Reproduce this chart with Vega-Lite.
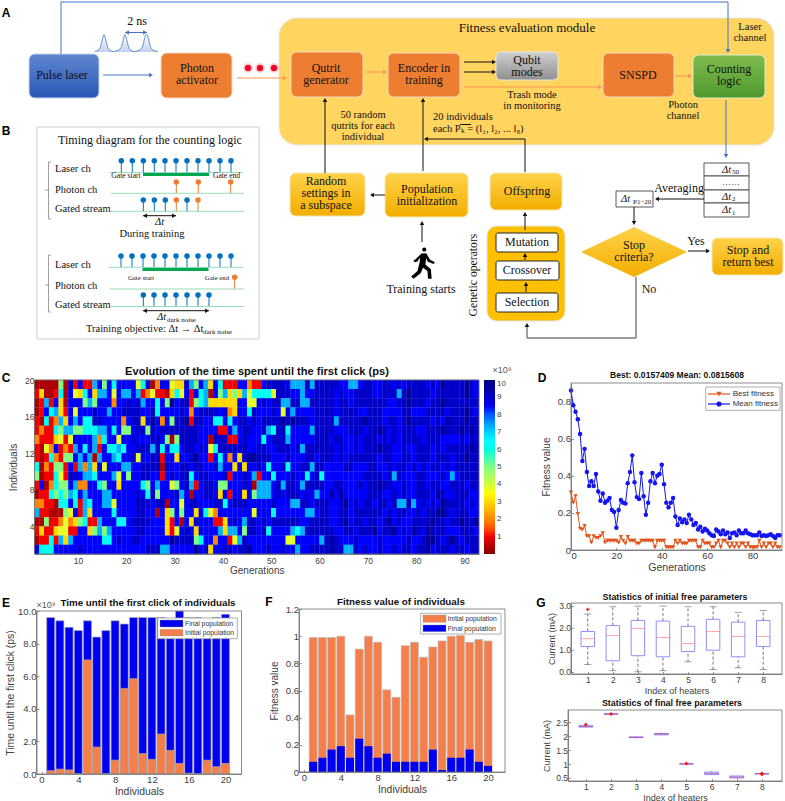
{"$schema":"https://vega.github.io/schema/vega-lite/v6.json","width":785,"height":801,"padding":0,"autosize":{"type":"none"},"background":"white",
"config":{"view":{"stroke":null},"text":{"lineBreak":"\n"},"axis":{"grid":false,"domainColor":"#6e6e6e","tickColor":"#6e6e6e","labelColor":"#404040","titleColor":"#404040","labelFont":"Liberation Sans","titleFont":"Liberation Sans","titleFontWeight":"normal","tickSize":-2.5,"labelPadding":3,"domainWidth":0.8,"tickWidth":0.7}},
"resolve":{"scale":{"x":"independent","y":"independent","fill":"independent","color":"independent","size":"independent","shape":"independent"},"axis":{"x":"independent","y":"independent"},"legend":{"fill":"independent"}},
"datasets":{
"heat":[
{"g":1,"i":19,"v":0.4},{"g":2,"i":19,"v":0.4},{"g":3,"i":19,"v":0.4},{"g":4,"i":19,"v":0.4},{"g":5,"i":19,"v":0.4},{"g":6,"i":19,"v":5},{"g":7,"i":19,"v":0.4},{"g":8,"i":19,"v":9},{"g":9,"i":19,"v":1},{"g":10,"i":19,"v":8.3},{"g":11,"i":19,"v":1},{"g":12,"i":19,"v":1},{"g":13,"i":19,"v":7.3},{"g":14,"i":19,"v":8.3},{"g":15,"i":19,"v":5},{"g":16,"i":19,"v":8.3},{"g":17,"i":19,"v":6.3},{"g":18,"i":19,"v":8.3},{"g":19,"i":19,"v":8.3},{"g":20,"i":19,"v":8.3},{"g":21,"i":19,"v":8.3},{"g":22,"i":19,"v":3.8},{"g":23,"i":19,"v":6.3},{"g":24,"i":19,"v":9},{"g":25,"i":19,"v":0.4},{"g":26,"i":19,"v":2},{"g":27,"i":19,"v":8.3},{"g":28,"i":19,"v":8.3},{"g":29,"i":19,"v":3.8},{"g":30,"i":19,"v":3},{"g":31,"i":19,"v":3},{"g":32,"i":19,"v":9},{"g":33,"i":19,"v":7.3},{"g":34,"i":19,"v":5},{"g":35,"i":19,"v":8.3},{"g":36,"i":19,"v":7.3},{"g":37,"i":19,"v":3},{"g":38,"i":19,"v":8.3},{"g":39,"i":19,"v":6.3},{"g":40,"i":19,"v":1},{"g":41,"i":19,"v":1},{"g":42,"i":19,"v":1},{"g":43,"i":19,"v":8.3},{"g":44,"i":19,"v":8.3},{"g":45,"i":19,"v":2},{"g":46,"i":19,"v":1},{"g":47,"i":19,"v":1},{"g":48,"i":19,"v":8.3},{"g":49,"i":19,"v":9},{"g":50,"i":19,"v":9},{"g":51,"i":19,"v":9},{"g":52,"i":19,"v":9},{"g":53,"i":19,"v":8.3},{"g":54,"i":19,"v":7.3},{"g":55,"i":19,"v":7.3},{"g":56,"i":19,"v":7.3},{"g":57,"i":19,"v":9},{"g":58,"i":19,"v":7.3},{"g":59,"i":19,"v":9},{"g":60,"i":19,"v":9},{"g":61,"i":19,"v":9},{"g":62,"i":19,"v":9},{"g":63,"i":19,"v":9},{"g":64,"i":19,"v":8.3},{"g":65,"i":19,"v":8.3},{"g":66,"i":19,"v":7.3},{"g":67,"i":19,"v":7.3},{"g":68,"i":19,"v":8.3},{"g":69,"i":19,"v":9},{"g":70,"i":19,"v":9},{"g":71,"i":19,"v":8.3},{"g":72,"i":19,"v":8.3},{"g":73,"i":19,"v":9},{"g":74,"i":19,"v":9},{"g":75,"i":19,"v":8.3},{"g":76,"i":19,"v":9},{"g":77,"i":19,"v":8.3},{"g":78,"i":19,"v":9},{"g":79,"i":19,"v":9},{"g":80,"i":19,"v":9},{"g":81,"i":19,"v":9},{"g":82,"i":19,"v":8.3},{"g":83,"i":19,"v":9},{"g":84,"i":19,"v":8.3},{"g":85,"i":19,"v":9.6},{"g":86,"i":19,"v":9},{"g":87,"i":19,"v":9},{"g":88,"i":19,"v":9},{"g":89,"i":19,"v":9},{"g":90,"i":19,"v":9.6},{"g":91,"i":19,"v":9},{"g":92,"i":19,"v":8.3},
{"g":1,"i":18,"v":1},{"g":2,"i":18,"v":3},{"g":3,"i":18,"v":0.4},{"g":4,"i":18,"v":0.4},{"g":5,"i":18,"v":1},{"g":6,"i":18,"v":6.3},{"g":7,"i":18,"v":0.4},{"g":8,"i":18,"v":8.3},{"g":9,"i":18,"v":3.8},{"g":10,"i":18,"v":3},{"g":11,"i":18,"v":6.3},{"g":12,"i":18,"v":8.3},{"g":13,"i":18,"v":3},{"g":14,"i":18,"v":7.3},{"g":15,"i":18,"v":7.3},{"g":16,"i":18,"v":8.3},{"g":17,"i":18,"v":3.8},{"g":18,"i":18,"v":8.3},{"g":19,"i":18,"v":7.3},{"g":20,"i":18,"v":7.3},{"g":21,"i":18,"v":8.3},{"g":22,"i":18,"v":7.3},{"g":23,"i":18,"v":1},{"g":24,"i":18,"v":2},{"g":25,"i":18,"v":3.8},{"g":26,"i":18,"v":1},{"g":27,"i":18,"v":1},{"g":28,"i":18,"v":0.4},{"g":29,"i":18,"v":3},{"g":30,"i":18,"v":6.3},{"g":31,"i":18,"v":3.8},{"g":32,"i":18,"v":8.3},{"g":33,"i":18,"v":1},{"g":34,"i":18,"v":8.3},{"g":35,"i":18,"v":6.3},{"g":36,"i":18,"v":7.3},{"g":37,"i":18,"v":0.4},{"g":38,"i":18,"v":8.3},{"g":39,"i":18,"v":5},{"g":40,"i":18,"v":7.3},{"g":41,"i":18,"v":3},{"g":42,"i":18,"v":5},{"g":43,"i":18,"v":3},{"g":44,"i":18,"v":7.3},{"g":45,"i":18,"v":3.8},{"g":46,"i":18,"v":6.3},{"g":47,"i":18,"v":6.3},{"g":48,"i":18,"v":6.3},{"g":49,"i":18,"v":6.3},{"g":50,"i":18,"v":3.8},{"g":51,"i":18,"v":9},{"g":52,"i":18,"v":9},{"g":53,"i":18,"v":9},{"g":54,"i":18,"v":8.3},{"g":55,"i":18,"v":8.3},{"g":56,"i":18,"v":7.3},{"g":57,"i":18,"v":8.3},{"g":58,"i":18,"v":8.3},{"g":59,"i":18,"v":9},{"g":60,"i":18,"v":9},{"g":61,"i":18,"v":9},{"g":62,"i":18,"v":9},{"g":63,"i":18,"v":8.3},{"g":64,"i":18,"v":9},{"g":65,"i":18,"v":8.3},{"g":66,"i":18,"v":8.3},{"g":67,"i":18,"v":9},{"g":68,"i":18,"v":9},{"g":69,"i":18,"v":9},{"g":70,"i":18,"v":9},{"g":71,"i":18,"v":8.3},{"g":72,"i":18,"v":8.3},{"g":73,"i":18,"v":9},{"g":74,"i":18,"v":9},{"g":75,"i":18,"v":9},{"g":76,"i":18,"v":7.3},{"g":77,"i":18,"v":9},{"g":78,"i":18,"v":9.6},{"g":79,"i":18,"v":9},{"g":80,"i":18,"v":9},{"g":81,"i":18,"v":9},{"g":82,"i":18,"v":9},{"g":83,"i":18,"v":8.3},{"g":84,"i":18,"v":9},{"g":85,"i":18,"v":9},{"g":86,"i":18,"v":9},{"g":87,"i":18,"v":9},{"g":88,"i":18,"v":9},{"g":89,"i":18,"v":9},{"g":90,"i":18,"v":9.6},{"g":91,"i":18,"v":9},{"g":92,"i":18,"v":8.3},
{"g":1,"i":17,"v":0.4},{"g":2,"i":17,"v":1},{"g":3,"i":17,"v":7.3},{"g":4,"i":17,"v":1},{"g":5,"i":17,"v":8.3},{"g":6,"i":17,"v":3},{"g":7,"i":17,"v":0.4},{"g":8,"i":17,"v":8.3},{"g":9,"i":17,"v":8.3},{"g":10,"i":17,"v":8.3},{"g":11,"i":17,"v":5},{"g":12,"i":17,"v":7.3},{"g":13,"i":17,"v":5},{"g":14,"i":17,"v":8.3},{"g":15,"i":17,"v":8.3},{"g":16,"i":17,"v":8.3},{"g":17,"i":17,"v":2},{"g":18,"i":17,"v":8.3},{"g":19,"i":17,"v":8.3},{"g":20,"i":17,"v":9},{"g":21,"i":17,"v":8.3},{"g":22,"i":17,"v":9},{"g":23,"i":17,"v":7.3},{"g":24,"i":17,"v":8.3},{"g":25,"i":17,"v":8.3},{"g":26,"i":17,"v":6.3},{"g":27,"i":17,"v":8.3},{"g":28,"i":17,"v":5},{"g":29,"i":17,"v":9.6},{"g":30,"i":17,"v":8.3},{"g":31,"i":17,"v":9},{"g":32,"i":17,"v":9},{"g":33,"i":17,"v":1},{"g":34,"i":17,"v":5},{"g":35,"i":17,"v":6.3},{"g":36,"i":17,"v":7.3},{"g":37,"i":17,"v":3},{"g":38,"i":17,"v":3},{"g":39,"i":17,"v":3},{"g":40,"i":17,"v":3},{"g":41,"i":17,"v":3},{"g":42,"i":17,"v":3},{"g":43,"i":17,"v":8.3},{"g":44,"i":17,"v":8.3},{"g":45,"i":17,"v":3.8},{"g":46,"i":17,"v":3.8},{"g":47,"i":17,"v":8.3},{"g":48,"i":17,"v":9},{"g":49,"i":17,"v":8.3},{"g":50,"i":17,"v":9},{"g":51,"i":17,"v":9},{"g":52,"i":17,"v":7.3},{"g":53,"i":17,"v":7.3},{"g":54,"i":17,"v":9},{"g":55,"i":17,"v":9},{"g":56,"i":17,"v":7.3},{"g":57,"i":17,"v":7.3},{"g":58,"i":17,"v":9},{"g":59,"i":17,"v":9},{"g":60,"i":17,"v":9},{"g":61,"i":17,"v":9},{"g":62,"i":17,"v":9},{"g":63,"i":17,"v":8.3},{"g":64,"i":17,"v":9},{"g":65,"i":17,"v":9},{"g":66,"i":17,"v":8.3},{"g":67,"i":17,"v":9},{"g":68,"i":17,"v":9},{"g":69,"i":17,"v":9},{"g":70,"i":17,"v":9},{"g":71,"i":17,"v":9},{"g":72,"i":17,"v":9},{"g":73,"i":17,"v":9},{"g":74,"i":17,"v":8.3},{"g":75,"i":17,"v":8.3},{"g":76,"i":17,"v":9},{"g":77,"i":17,"v":9},{"g":78,"i":17,"v":9.6},{"g":79,"i":17,"v":9},{"g":80,"i":17,"v":9},{"g":81,"i":17,"v":9},{"g":82,"i":17,"v":8.3},{"g":83,"i":17,"v":9},{"g":84,"i":17,"v":9},{"g":85,"i":17,"v":9.6},{"g":86,"i":17,"v":9},{"g":87,"i":17,"v":9},{"g":88,"i":17,"v":9},{"g":89,"i":17,"v":9},{"g":90,"i":17,"v":9},{"g":91,"i":17,"v":9},{"g":92,"i":17,"v":9},
{"g":1,"i":16,"v":0.4},{"g":2,"i":16,"v":1},{"g":3,"i":16,"v":8.3},{"g":4,"i":16,"v":6.3},{"g":5,"i":16,"v":7.3},{"g":6,"i":16,"v":3},{"g":7,"i":16,"v":1},{"g":8,"i":16,"v":8.3},{"g":9,"i":16,"v":3.8},{"g":10,"i":16,"v":8.3},{"g":11,"i":16,"v":8.3},{"g":12,"i":16,"v":8.3},{"g":13,"i":16,"v":9},{"g":14,"i":16,"v":8.3},{"g":15,"i":16,"v":8.3},{"g":16,"i":16,"v":7.3},{"g":17,"i":16,"v":8.3},{"g":18,"i":16,"v":8.3},{"g":19,"i":16,"v":9},{"g":20,"i":16,"v":9},{"g":21,"i":16,"v":9},{"g":22,"i":16,"v":9},{"g":23,"i":16,"v":8.3},{"g":24,"i":16,"v":8.3},{"g":25,"i":16,"v":9},{"g":26,"i":16,"v":6.3},{"g":27,"i":16,"v":8.3},{"g":28,"i":16,"v":8.3},{"g":29,"i":16,"v":8.3},{"g":30,"i":16,"v":8.3},{"g":31,"i":16,"v":9},{"g":32,"i":16,"v":8.3},{"g":33,"i":16,"v":2},{"g":34,"i":16,"v":8.3},{"g":35,"i":16,"v":9},{"g":36,"i":16,"v":9},{"g":37,"i":16,"v":9},{"g":38,"i":16,"v":9},{"g":39,"i":16,"v":8.3},{"g":40,"i":16,"v":9},{"g":41,"i":16,"v":2},{"g":42,"i":16,"v":3},{"g":43,"i":16,"v":8.3},{"g":44,"i":16,"v":8.3},{"g":45,"i":16,"v":6.3},{"g":46,"i":16,"v":9},{"g":47,"i":16,"v":8.3},{"g":48,"i":16,"v":8.3},{"g":49,"i":16,"v":8.3},{"g":50,"i":16,"v":9},{"g":51,"i":16,"v":8.3},{"g":52,"i":16,"v":3.8},{"g":53,"i":16,"v":8.3},{"g":54,"i":16,"v":7.3},{"g":55,"i":16,"v":8.3},{"g":56,"i":16,"v":8.3},{"g":57,"i":16,"v":8.3},{"g":58,"i":16,"v":8.3},{"g":59,"i":16,"v":9},{"g":60,"i":16,"v":9},{"g":61,"i":16,"v":9},{"g":62,"i":16,"v":9},{"g":63,"i":16,"v":8.3},{"g":64,"i":16,"v":9},{"g":65,"i":16,"v":9},{"g":66,"i":16,"v":9},{"g":67,"i":16,"v":9},{"g":68,"i":16,"v":8.3},{"g":69,"i":16,"v":8.3},{"g":70,"i":16,"v":9},{"g":71,"i":16,"v":9},{"g":72,"i":16,"v":9},{"g":73,"i":16,"v":8.3},{"g":74,"i":16,"v":8.3},{"g":75,"i":16,"v":8.3},{"g":76,"i":16,"v":8.3},{"g":77,"i":16,"v":9},{"g":78,"i":16,"v":9},{"g":79,"i":16,"v":8.3},{"g":80,"i":16,"v":8.3},{"g":81,"i":16,"v":8.3},{"g":82,"i":16,"v":9},{"g":83,"i":16,"v":9},{"g":84,"i":16,"v":9},{"g":85,"i":16,"v":9},{"g":86,"i":16,"v":8.3},{"g":87,"i":16,"v":9},{"g":88,"i":16,"v":9},{"g":89,"i":16,"v":9},{"g":90,"i":16,"v":9.6},{"g":91,"i":16,"v":9},{"g":92,"i":16,"v":8.3},
{"g":1,"i":15,"v":1},{"g":2,"i":15,"v":0.4},{"g":3,"i":15,"v":6.3},{"g":4,"i":15,"v":1},{"g":5,"i":15,"v":2},{"g":6,"i":15,"v":7.3},{"g":7,"i":15,"v":3},{"g":8,"i":15,"v":8.3},{"g":9,"i":15,"v":7.3},{"g":10,"i":15,"v":8.3},{"g":11,"i":15,"v":6.3},{"g":12,"i":15,"v":6.3},{"g":13,"i":15,"v":9},{"g":14,"i":15,"v":9},{"g":15,"i":15,"v":8.3},{"g":16,"i":15,"v":8.3},{"g":17,"i":15,"v":8.3},{"g":18,"i":15,"v":8.3},{"g":19,"i":15,"v":2},{"g":20,"i":15,"v":8.3},{"g":21,"i":15,"v":9},{"g":22,"i":15,"v":9},{"g":23,"i":15,"v":3},{"g":24,"i":15,"v":8.3},{"g":25,"i":15,"v":9.6},{"g":26,"i":15,"v":8.3},{"g":27,"i":15,"v":2},{"g":28,"i":15,"v":8.3},{"g":29,"i":15,"v":5},{"g":30,"i":15,"v":9},{"g":31,"i":15,"v":9},{"g":32,"i":15,"v":9.6},{"g":33,"i":15,"v":1},{"g":34,"i":15,"v":9},{"g":35,"i":15,"v":9},{"g":36,"i":15,"v":8.3},{"g":37,"i":15,"v":8.3},{"g":38,"i":15,"v":6.3},{"g":39,"i":15,"v":6.3},{"g":40,"i":15,"v":8.3},{"g":41,"i":15,"v":6.3},{"g":42,"i":15,"v":8.3},{"g":43,"i":15,"v":9},{"g":44,"i":15,"v":9},{"g":45,"i":15,"v":8.3},{"g":46,"i":15,"v":9},{"g":47,"i":15,"v":8.3},{"g":48,"i":15,"v":9},{"g":49,"i":15,"v":9},{"g":50,"i":15,"v":9},{"g":51,"i":15,"v":9},{"g":52,"i":15,"v":9.6},{"g":53,"i":15,"v":9},{"g":54,"i":15,"v":9.6},{"g":55,"i":15,"v":9},{"g":56,"i":15,"v":9},{"g":57,"i":15,"v":9},{"g":58,"i":15,"v":8.3},{"g":59,"i":15,"v":9},{"g":60,"i":15,"v":9},{"g":61,"i":15,"v":9},{"g":62,"i":15,"v":9},{"g":63,"i":15,"v":7.3},{"g":64,"i":15,"v":9},{"g":65,"i":15,"v":9},{"g":66,"i":15,"v":9},{"g":67,"i":15,"v":9},{"g":68,"i":15,"v":9},{"g":69,"i":15,"v":9.6},{"g":70,"i":15,"v":9},{"g":71,"i":15,"v":9},{"g":72,"i":15,"v":9},{"g":73,"i":15,"v":8.3},{"g":74,"i":15,"v":9},{"g":75,"i":15,"v":9},{"g":76,"i":15,"v":8.3},{"g":77,"i":15,"v":9},{"g":78,"i":15,"v":9.6},{"g":79,"i":15,"v":9},{"g":80,"i":15,"v":9},{"g":81,"i":15,"v":9},{"g":82,"i":15,"v":9},{"g":83,"i":15,"v":8.3},{"g":84,"i":15,"v":9},{"g":85,"i":15,"v":8.3},{"g":86,"i":15,"v":9.6},{"g":87,"i":15,"v":9},{"g":88,"i":15,"v":9},{"g":89,"i":15,"v":9},{"g":90,"i":15,"v":9.6},{"g":91,"i":15,"v":9},{"g":92,"i":15,"v":9},
{"g":1,"i":14,"v":1},{"g":2,"i":14,"v":2},{"g":3,"i":14,"v":1},{"g":4,"i":14,"v":1},{"g":5,"i":14,"v":6.3},{"g":6,"i":14,"v":5},{"g":7,"i":14,"v":7.3},{"g":8,"i":14,"v":7.3},{"g":9,"i":14,"v":5},{"g":10,"i":14,"v":5},{"g":11,"i":14,"v":6.3},{"g":12,"i":14,"v":6.3},{"g":13,"i":14,"v":6.3},{"g":14,"i":14,"v":7.3},{"g":15,"i":14,"v":7.3},{"g":16,"i":14,"v":8.3},{"g":17,"i":14,"v":6.3},{"g":18,"i":14,"v":8.3},{"g":19,"i":14,"v":5},{"g":20,"i":14,"v":5},{"g":21,"i":14,"v":8.3},{"g":22,"i":14,"v":9},{"g":23,"i":14,"v":9},{"g":24,"i":14,"v":5},{"g":25,"i":14,"v":9},{"g":26,"i":14,"v":8.3},{"g":27,"i":14,"v":9},{"g":28,"i":14,"v":9},{"g":29,"i":14,"v":9},{"g":30,"i":14,"v":9},{"g":31,"i":14,"v":9},{"g":32,"i":14,"v":9},{"g":33,"i":14,"v":9},{"g":34,"i":14,"v":9},{"g":35,"i":14,"v":8.3},{"g":36,"i":14,"v":8.3},{"g":37,"i":14,"v":8.3},{"g":38,"i":14,"v":8.3},{"g":39,"i":14,"v":1},{"g":40,"i":14,"v":1},{"g":41,"i":14,"v":8.3},{"g":42,"i":14,"v":7.3},{"g":43,"i":14,"v":8.3},{"g":44,"i":14,"v":9},{"g":45,"i":14,"v":9},{"g":46,"i":14,"v":8.3},{"g":47,"i":14,"v":8.3},{"g":48,"i":14,"v":9},{"g":49,"i":14,"v":7.3},{"g":50,"i":14,"v":6.3},{"g":51,"i":14,"v":9},{"g":52,"i":14,"v":9},{"g":53,"i":14,"v":6.3},{"g":54,"i":14,"v":8.3},{"g":55,"i":14,"v":8.3},{"g":56,"i":14,"v":8.3},{"g":57,"i":14,"v":8.3},{"g":58,"i":14,"v":7.3},{"g":59,"i":14,"v":9},{"g":60,"i":14,"v":9},{"g":61,"i":14,"v":9},{"g":62,"i":14,"v":9},{"g":63,"i":14,"v":8.3},{"g":64,"i":14,"v":8.3},{"g":65,"i":14,"v":8.3},{"g":66,"i":14,"v":9},{"g":67,"i":14,"v":9},{"g":68,"i":14,"v":9},{"g":69,"i":14,"v":8.3},{"g":70,"i":14,"v":9},{"g":71,"i":14,"v":9},{"g":72,"i":14,"v":9.6},{"g":73,"i":14,"v":9},{"g":74,"i":14,"v":8.3},{"g":75,"i":14,"v":9},{"g":76,"i":14,"v":8.3},{"g":77,"i":14,"v":9},{"g":78,"i":14,"v":9},{"g":79,"i":14,"v":9},{"g":80,"i":14,"v":8.3},{"g":81,"i":14,"v":8.3},{"g":82,"i":14,"v":9},{"g":83,"i":14,"v":9},{"g":84,"i":14,"v":9},{"g":85,"i":14,"v":9.6},{"g":86,"i":14,"v":9},{"g":87,"i":14,"v":9},{"g":88,"i":14,"v":9},{"g":89,"i":14,"v":9.6},{"g":90,"i":14,"v":9},{"g":91,"i":14,"v":9.6},{"g":92,"i":14,"v":9},
{"g":1,"i":13,"v":2},{"g":2,"i":13,"v":1},{"g":3,"i":13,"v":1},{"g":4,"i":13,"v":1},{"g":5,"i":13,"v":3},{"g":6,"i":13,"v":3.8},{"g":7,"i":13,"v":1},{"g":8,"i":13,"v":3.8},{"g":9,"i":13,"v":8.3},{"g":10,"i":13,"v":8.3},{"g":11,"i":13,"v":8.3},{"g":12,"i":13,"v":8.3},{"g":13,"i":13,"v":7.3},{"g":14,"i":13,"v":2},{"g":15,"i":13,"v":6.3},{"g":16,"i":13,"v":8.3},{"g":17,"i":13,"v":8.3},{"g":18,"i":13,"v":3.8},{"g":19,"i":13,"v":8.3},{"g":20,"i":13,"v":8.3},{"g":21,"i":13,"v":9},{"g":22,"i":13,"v":8.3},{"g":23,"i":13,"v":8.3},{"g":24,"i":13,"v":8.3},{"g":25,"i":13,"v":9},{"g":26,"i":13,"v":9},{"g":27,"i":13,"v":8.3},{"g":28,"i":13,"v":5},{"g":29,"i":13,"v":0.4},{"g":30,"i":13,"v":5},{"g":31,"i":13,"v":9},{"g":32,"i":13,"v":9},{"g":33,"i":13,"v":9},{"g":34,"i":13,"v":9},{"g":35,"i":13,"v":8.3},{"g":36,"i":13,"v":8.3},{"g":37,"i":13,"v":0.4},{"g":38,"i":13,"v":9},{"g":39,"i":13,"v":9},{"g":40,"i":13,"v":9},{"g":41,"i":13,"v":1},{"g":42,"i":13,"v":1},{"g":43,"i":13,"v":8.3},{"g":44,"i":13,"v":9},{"g":45,"i":13,"v":8.3},{"g":46,"i":13,"v":8.3},{"g":47,"i":13,"v":8.3},{"g":48,"i":13,"v":6.3},{"g":49,"i":13,"v":8.3},{"g":50,"i":13,"v":9},{"g":51,"i":13,"v":9},{"g":52,"i":13,"v":9},{"g":53,"i":13,"v":7.3},{"g":54,"i":13,"v":8.3},{"g":55,"i":13,"v":8.3},{"g":56,"i":13,"v":8.3},{"g":57,"i":13,"v":8.3},{"g":58,"i":13,"v":8.3},{"g":59,"i":13,"v":9},{"g":60,"i":13,"v":9},{"g":61,"i":13,"v":9},{"g":62,"i":13,"v":8.3},{"g":63,"i":13,"v":9},{"g":64,"i":13,"v":9},{"g":65,"i":13,"v":8.3},{"g":66,"i":13,"v":8.3},{"g":67,"i":13,"v":9},{"g":68,"i":13,"v":8.3},{"g":69,"i":13,"v":9},{"g":70,"i":13,"v":9},{"g":71,"i":13,"v":9},{"g":72,"i":13,"v":8.3},{"g":73,"i":13,"v":9},{"g":74,"i":13,"v":8.3},{"g":75,"i":13,"v":9},{"g":76,"i":13,"v":8.3},{"g":77,"i":13,"v":9},{"g":78,"i":13,"v":9},{"g":79,"i":13,"v":9},{"g":80,"i":13,"v":9},{"g":81,"i":13,"v":8.3},{"g":82,"i":13,"v":9},{"g":83,"i":13,"v":9},{"g":84,"i":13,"v":9},{"g":85,"i":13,"v":8.3},{"g":86,"i":13,"v":8.3},{"g":87,"i":13,"v":8.3},{"g":88,"i":13,"v":8.3},{"g":89,"i":13,"v":9},{"g":90,"i":13,"v":8.3},{"g":91,"i":13,"v":9},{"g":92,"i":13,"v":9},
{"g":1,"i":12,"v":1},{"g":2,"i":12,"v":0.4},{"g":3,"i":12,"v":3.8},{"g":4,"i":12,"v":2},{"g":5,"i":12,"v":8.3},{"g":6,"i":12,"v":1},{"g":7,"i":12,"v":2},{"g":8,"i":12,"v":1},{"g":9,"i":12,"v":7.3},{"g":10,"i":12,"v":8.3},{"g":11,"i":12,"v":6.3},{"g":12,"i":12,"v":8.3},{"g":13,"i":12,"v":7.3},{"g":14,"i":12,"v":1},{"g":15,"i":12,"v":8.3},{"g":16,"i":12,"v":6.3},{"g":17,"i":12,"v":6.3},{"g":18,"i":12,"v":7.3},{"g":19,"i":12,"v":6.3},{"g":20,"i":12,"v":8.3},{"g":21,"i":12,"v":8.3},{"g":22,"i":12,"v":9},{"g":23,"i":12,"v":9},{"g":24,"i":12,"v":9},{"g":25,"i":12,"v":7.3},{"g":26,"i":12,"v":9},{"g":27,"i":12,"v":6.3},{"g":28,"i":12,"v":8.3},{"g":29,"i":12,"v":6.3},{"g":30,"i":12,"v":6.3},{"g":31,"i":12,"v":8.3},{"g":32,"i":12,"v":9},{"g":33,"i":12,"v":9},{"g":34,"i":12,"v":8.3},{"g":35,"i":12,"v":9},{"g":36,"i":12,"v":8.3},{"g":37,"i":12,"v":3.8},{"g":38,"i":12,"v":6.3},{"g":39,"i":12,"v":9},{"g":40,"i":12,"v":9},{"g":41,"i":12,"v":9},{"g":42,"i":12,"v":9},{"g":43,"i":12,"v":9},{"g":44,"i":12,"v":9},{"g":45,"i":12,"v":8.3},{"g":46,"i":12,"v":8.3},{"g":47,"i":12,"v":9},{"g":48,"i":12,"v":9},{"g":49,"i":12,"v":8.3},{"g":50,"i":12,"v":8.3},{"g":51,"i":12,"v":9},{"g":52,"i":12,"v":9},{"g":53,"i":12,"v":9},{"g":54,"i":12,"v":8.3},{"g":55,"i":12,"v":9},{"g":56,"i":12,"v":7.3},{"g":57,"i":12,"v":9},{"g":58,"i":12,"v":9},{"g":59,"i":12,"v":9},{"g":60,"i":12,"v":9},{"g":61,"i":12,"v":9},{"g":62,"i":12,"v":9},{"g":63,"i":12,"v":8.3},{"g":64,"i":12,"v":9},{"g":65,"i":12,"v":8.3},{"g":66,"i":12,"v":8.3},{"g":67,"i":12,"v":9},{"g":68,"i":12,"v":8.3},{"g":69,"i":12,"v":9},{"g":70,"i":12,"v":9},{"g":71,"i":12,"v":9},{"g":72,"i":12,"v":9.6},{"g":73,"i":12,"v":9},{"g":74,"i":12,"v":9},{"g":75,"i":12,"v":8.3},{"g":76,"i":12,"v":8.3},{"g":77,"i":12,"v":9},{"g":78,"i":12,"v":8.3},{"g":79,"i":12,"v":8.3},{"g":80,"i":12,"v":9},{"g":81,"i":12,"v":9},{"g":82,"i":12,"v":9},{"g":83,"i":12,"v":8.3},{"g":84,"i":12,"v":9},{"g":85,"i":12,"v":8.3},{"g":86,"i":12,"v":9},{"g":87,"i":12,"v":9},{"g":88,"i":12,"v":9},{"g":89,"i":12,"v":9},{"g":90,"i":12,"v":9},{"g":91,"i":12,"v":9.6},{"g":92,"i":12,"v":9},
{"g":1,"i":11,"v":1},{"g":2,"i":11,"v":0.4},{"g":3,"i":11,"v":1},{"g":4,"i":11,"v":6.3},{"g":5,"i":11,"v":2},{"g":6,"i":11,"v":1},{"g":7,"i":11,"v":5},{"g":8,"i":11,"v":5},{"g":9,"i":11,"v":8.3},{"g":10,"i":11,"v":7.3},{"g":11,"i":11,"v":8.3},{"g":12,"i":11,"v":7.3},{"g":13,"i":11,"v":0.4},{"g":14,"i":11,"v":7.3},{"g":15,"i":11,"v":8.3},{"g":16,"i":11,"v":8.3},{"g":17,"i":11,"v":7.3},{"g":18,"i":11,"v":6.3},{"g":19,"i":11,"v":8.3},{"g":20,"i":11,"v":8.3},{"g":21,"i":11,"v":9},{"g":22,"i":11,"v":3.8},{"g":23,"i":11,"v":8.3},{"g":24,"i":11,"v":8.3},{"g":25,"i":11,"v":9},{"g":26,"i":11,"v":9},{"g":27,"i":11,"v":1},{"g":28,"i":11,"v":8.3},{"g":29,"i":11,"v":8.3},{"g":30,"i":11,"v":3},{"g":31,"i":11,"v":8.3},{"g":32,"i":11,"v":8.3},{"g":33,"i":11,"v":9},{"g":34,"i":11,"v":9.6},{"g":35,"i":11,"v":8.3},{"g":36,"i":11,"v":8.3},{"g":37,"i":11,"v":1},{"g":38,"i":11,"v":8.3},{"g":39,"i":11,"v":6.3},{"g":40,"i":11,"v":8.3},{"g":41,"i":11,"v":2},{"g":42,"i":11,"v":8.3},{"g":43,"i":11,"v":3},{"g":44,"i":11,"v":9},{"g":45,"i":11,"v":9.6},{"g":46,"i":11,"v":9.6},{"g":47,"i":11,"v":9},{"g":48,"i":11,"v":9},{"g":49,"i":11,"v":9},{"g":50,"i":11,"v":8.3},{"g":51,"i":11,"v":8.3},{"g":52,"i":11,"v":8.3},{"g":53,"i":11,"v":9},{"g":54,"i":11,"v":8.3},{"g":55,"i":11,"v":8.3},{"g":56,"i":11,"v":8.3},{"g":57,"i":11,"v":9},{"g":58,"i":11,"v":9},{"g":59,"i":11,"v":8.3},{"g":60,"i":11,"v":9},{"g":61,"i":11,"v":9},{"g":62,"i":11,"v":9},{"g":63,"i":11,"v":8.3},{"g":64,"i":11,"v":9},{"g":65,"i":11,"v":8.3},{"g":66,"i":11,"v":9},{"g":67,"i":11,"v":9},{"g":68,"i":11,"v":9},{"g":69,"i":11,"v":9},{"g":70,"i":11,"v":9},{"g":71,"i":11,"v":9},{"g":72,"i":11,"v":8.3},{"g":73,"i":11,"v":9},{"g":74,"i":11,"v":9},{"g":75,"i":11,"v":8.3},{"g":76,"i":11,"v":8.3},{"g":77,"i":11,"v":9},{"g":78,"i":11,"v":9},{"g":79,"i":11,"v":8.3},{"g":80,"i":11,"v":9},{"g":81,"i":11,"v":9},{"g":82,"i":11,"v":9},{"g":83,"i":11,"v":8.3},{"g":84,"i":11,"v":9},{"g":85,"i":11,"v":9},{"g":86,"i":11,"v":9},{"g":87,"i":11,"v":8.3},{"g":88,"i":11,"v":9},{"g":89,"i":11,"v":9},{"g":90,"i":11,"v":9.6},{"g":91,"i":11,"v":9},{"g":92,"i":11,"v":9},
{"g":1,"i":10,"v":6.3},{"g":2,"i":10,"v":0.4},{"g":3,"i":10,"v":2},{"g":4,"i":10,"v":1},{"g":5,"i":10,"v":5},{"g":6,"i":10,"v":5},{"g":7,"i":10,"v":1},{"g":8,"i":10,"v":8.3},{"g":9,"i":10,"v":1},{"g":10,"i":10,"v":7.3},{"g":11,"i":10,"v":2},{"g":12,"i":10,"v":7.3},{"g":13,"i":10,"v":3},{"g":14,"i":10,"v":8.3},{"g":15,"i":10,"v":3.8},{"g":16,"i":10,"v":8.3},{"g":17,"i":10,"v":8.3},{"g":18,"i":10,"v":8.3},{"g":19,"i":10,"v":7.3},{"g":20,"i":10,"v":7.3},{"g":21,"i":10,"v":8.3},{"g":22,"i":10,"v":8.3},{"g":23,"i":10,"v":9},{"g":24,"i":10,"v":9},{"g":25,"i":10,"v":9},{"g":26,"i":10,"v":9},{"g":27,"i":10,"v":0.4},{"g":28,"i":10,"v":9},{"g":29,"i":10,"v":8.3},{"g":30,"i":10,"v":8.3},{"g":31,"i":10,"v":9},{"g":32,"i":10,"v":9},{"g":33,"i":10,"v":8.3},{"g":34,"i":10,"v":9},{"g":35,"i":10,"v":9},{"g":36,"i":10,"v":8.3},{"g":37,"i":10,"v":8.3},{"g":38,"i":10,"v":9},{"g":39,"i":10,"v":7.3},{"g":40,"i":10,"v":8.3},{"g":41,"i":10,"v":8.3},{"g":42,"i":10,"v":3},{"g":43,"i":10,"v":8.3},{"g":44,"i":10,"v":3},{"g":45,"i":10,"v":8.3},{"g":46,"i":10,"v":8.3},{"g":47,"i":10,"v":9},{"g":48,"i":10,"v":8.3},{"g":49,"i":10,"v":6.3},{"g":50,"i":10,"v":8.3},{"g":51,"i":10,"v":8.3},{"g":52,"i":10,"v":9},{"g":53,"i":10,"v":6.3},{"g":54,"i":10,"v":8.3},{"g":55,"i":10,"v":8.3},{"g":56,"i":10,"v":9},{"g":57,"i":10,"v":9},{"g":58,"i":10,"v":7.3},{"g":59,"i":10,"v":9},{"g":60,"i":10,"v":9},{"g":61,"i":10,"v":8.3},{"g":62,"i":10,"v":8.3},{"g":63,"i":10,"v":8.3},{"g":64,"i":10,"v":8.3},{"g":65,"i":10,"v":9},{"g":66,"i":10,"v":9},{"g":67,"i":10,"v":8.3},{"g":68,"i":10,"v":8.3},{"g":69,"i":10,"v":8.3},{"g":70,"i":10,"v":9},{"g":71,"i":10,"v":9},{"g":72,"i":10,"v":8.3},{"g":73,"i":10,"v":8.3},{"g":74,"i":10,"v":9},{"g":75,"i":10,"v":8.3},{"g":76,"i":10,"v":9},{"g":77,"i":10,"v":9},{"g":78,"i":10,"v":8.3},{"g":79,"i":10,"v":9},{"g":80,"i":10,"v":8.3},{"g":81,"i":10,"v":9},{"g":82,"i":10,"v":8.3},{"g":83,"i":10,"v":9},{"g":84,"i":10,"v":9},{"g":85,"i":10,"v":8.3},{"g":86,"i":10,"v":9},{"g":87,"i":10,"v":8.3},{"g":88,"i":10,"v":9},{"g":89,"i":10,"v":9},{"g":90,"i":10,"v":9},{"g":91,"i":10,"v":9},{"g":92,"i":10,"v":9},
{"g":1,"i":9,"v":5},{"g":2,"i":9,"v":0.4},{"g":3,"i":9,"v":1},{"g":4,"i":9,"v":1},{"g":5,"i":9,"v":6.3},{"g":6,"i":9,"v":3.8},{"g":7,"i":9,"v":1},{"g":8,"i":9,"v":9},{"g":9,"i":9,"v":9},{"g":10,"i":9,"v":8.3},{"g":11,"i":9,"v":7.3},{"g":12,"i":9,"v":7.3},{"g":13,"i":9,"v":6.3},{"g":14,"i":9,"v":8.3},{"g":15,"i":9,"v":8.3},{"g":16,"i":9,"v":8.3},{"g":17,"i":9,"v":7.3},{"g":18,"i":9,"v":3.8},{"g":19,"i":9,"v":8.3},{"g":20,"i":9,"v":5},{"g":21,"i":9,"v":8.3},{"g":22,"i":9,"v":8.3},{"g":23,"i":9,"v":9},{"g":24,"i":9,"v":9},{"g":25,"i":9,"v":8.3},{"g":26,"i":9,"v":8.3},{"g":27,"i":9,"v":1},{"g":28,"i":9,"v":8.3},{"g":29,"i":9,"v":9},{"g":30,"i":9,"v":8.3},{"g":31,"i":9,"v":9},{"g":32,"i":9,"v":9},{"g":33,"i":9,"v":6.3},{"g":34,"i":9,"v":8.3},{"g":35,"i":9,"v":9},{"g":36,"i":9,"v":9},{"g":37,"i":9,"v":8.3},{"g":38,"i":9,"v":8.3},{"g":39,"i":9,"v":8.3},{"g":40,"i":9,"v":9},{"g":41,"i":9,"v":1},{"g":42,"i":9,"v":8.3},{"g":43,"i":9,"v":8.3},{"g":44,"i":9,"v":9},{"g":45,"i":9,"v":8.3},{"g":46,"i":9,"v":7.3},{"g":47,"i":9,"v":1},{"g":48,"i":9,"v":8.3},{"g":49,"i":9,"v":8.3},{"g":50,"i":9,"v":6.3},{"g":51,"i":9,"v":8.3},{"g":52,"i":9,"v":8.3},{"g":53,"i":9,"v":8.3},{"g":54,"i":9,"v":9},{"g":55,"i":9,"v":8.3},{"g":56,"i":9,"v":8.3},{"g":57,"i":9,"v":6.3},{"g":58,"i":9,"v":8.3},{"g":59,"i":9,"v":9},{"g":60,"i":9,"v":6.3},{"g":61,"i":9,"v":8.3},{"g":62,"i":9,"v":8.3},{"g":63,"i":9,"v":8.3},{"g":64,"i":9,"v":8.3},{"g":65,"i":9,"v":8.3},{"g":66,"i":9,"v":8.3},{"g":67,"i":9,"v":8.3},{"g":68,"i":9,"v":8.3},{"g":69,"i":9,"v":9},{"g":70,"i":9,"v":9},{"g":71,"i":9,"v":9},{"g":72,"i":9,"v":9},{"g":73,"i":9,"v":8.3},{"g":74,"i":9,"v":9},{"g":75,"i":9,"v":7.3},{"g":76,"i":9,"v":9},{"g":77,"i":9,"v":8.3},{"g":78,"i":9,"v":8.3},{"g":79,"i":9,"v":8.3},{"g":80,"i":9,"v":9},{"g":81,"i":9,"v":9},{"g":82,"i":9,"v":8.3},{"g":83,"i":9,"v":8.3},{"g":84,"i":9,"v":8.3},{"g":85,"i":9,"v":9},{"g":86,"i":9,"v":8.3},{"g":87,"i":9,"v":7.3},{"g":88,"i":9,"v":8.3},{"g":89,"i":9,"v":9},{"g":90,"i":9,"v":9},{"g":91,"i":9,"v":9},{"g":92,"i":9,"v":9},
{"g":1,"i":8,"v":1},{"g":2,"i":8,"v":8.3},{"g":3,"i":8,"v":0.4},{"g":4,"i":8,"v":2},{"g":5,"i":8,"v":6.3},{"g":6,"i":8,"v":5},{"g":7,"i":8,"v":5},{"g":8,"i":8,"v":8.3},{"g":9,"i":8,"v":7.3},{"g":10,"i":8,"v":2},{"g":11,"i":8,"v":2},{"g":12,"i":8,"v":8.3},{"g":13,"i":8,"v":8.3},{"g":14,"i":8,"v":6.3},{"g":15,"i":8,"v":5},{"g":16,"i":8,"v":8.3},{"g":17,"i":8,"v":8.3},{"g":18,"i":8,"v":3},{"g":19,"i":8,"v":8.3},{"g":20,"i":8,"v":8.3},{"g":21,"i":8,"v":8.3},{"g":22,"i":8,"v":8.3},{"g":23,"i":8,"v":6.3},{"g":24,"i":8,"v":5},{"g":25,"i":8,"v":8.3},{"g":26,"i":8,"v":7.3},{"g":27,"i":8,"v":8.3},{"g":28,"i":8,"v":8.3},{"g":29,"i":8,"v":3.8},{"g":30,"i":8,"v":5},{"g":31,"i":8,"v":8.3},{"g":32,"i":8,"v":9},{"g":33,"i":8,"v":7.3},{"g":34,"i":8,"v":1},{"g":35,"i":8,"v":8.3},{"g":36,"i":8,"v":9},{"g":37,"i":8,"v":9},{"g":38,"i":8,"v":8.3},{"g":39,"i":8,"v":5},{"g":40,"i":8,"v":5},{"g":41,"i":8,"v":8.3},{"g":42,"i":8,"v":8.3},{"g":43,"i":8,"v":8.3},{"g":44,"i":8,"v":9},{"g":45,"i":8,"v":8.3},{"g":46,"i":8,"v":0.4},{"g":47,"i":8,"v":7.3},{"g":48,"i":8,"v":7.3},{"g":49,"i":8,"v":7.3},{"g":50,"i":8,"v":8.3},{"g":51,"i":8,"v":9},{"g":52,"i":8,"v":7.3},{"g":53,"i":8,"v":9},{"g":54,"i":8,"v":9},{"g":55,"i":8,"v":8.3},{"g":56,"i":8,"v":7.3},{"g":57,"i":8,"v":9},{"g":58,"i":8,"v":9},{"g":59,"i":8,"v":9},{"g":60,"i":8,"v":9},{"g":61,"i":8,"v":8.3},{"g":62,"i":8,"v":8.3},{"g":63,"i":8,"v":9},{"g":64,"i":8,"v":9},{"g":65,"i":8,"v":8.3},{"g":66,"i":8,"v":8.3},{"g":67,"i":8,"v":8.3},{"g":68,"i":8,"v":9},{"g":69,"i":8,"v":8.3},{"g":70,"i":8,"v":9},{"g":71,"i":8,"v":9},{"g":72,"i":8,"v":9.6},{"g":73,"i":8,"v":9},{"g":74,"i":8,"v":9},{"g":75,"i":8,"v":8.3},{"g":76,"i":8,"v":8.3},{"g":77,"i":8,"v":9},{"g":78,"i":8,"v":8.3},{"g":79,"i":8,"v":8.3},{"g":80,"i":8,"v":9},{"g":81,"i":8,"v":9},{"g":82,"i":8,"v":8.3},{"g":83,"i":8,"v":9},{"g":84,"i":8,"v":9},{"g":85,"i":8,"v":8.3},{"g":86,"i":8,"v":8.3},{"g":87,"i":8,"v":9},{"g":88,"i":8,"v":9},{"g":89,"i":8,"v":9},{"g":90,"i":8,"v":8.3},{"g":91,"i":8,"v":9},{"g":92,"i":8,"v":9},
{"g":1,"i":7,"v":0.4},{"g":2,"i":7,"v":1},{"g":3,"i":7,"v":1},{"g":4,"i":7,"v":6.3},{"g":5,"i":7,"v":5},{"g":6,"i":7,"v":6.3},{"g":7,"i":7,"v":5},{"g":8,"i":7,"v":7.3},{"g":9,"i":7,"v":6.3},{"g":10,"i":7,"v":8.3},{"g":11,"i":7,"v":7.3},{"g":12,"i":7,"v":8.3},{"g":13,"i":7,"v":8.3},{"g":14,"i":7,"v":8.3},{"g":15,"i":7,"v":7.3},{"g":16,"i":7,"v":7.3},{"g":17,"i":7,"v":8.3},{"g":18,"i":7,"v":8.3},{"g":19,"i":7,"v":8.3},{"g":20,"i":7,"v":8.3},{"g":21,"i":7,"v":8.3},{"g":22,"i":7,"v":9},{"g":23,"i":7,"v":8.3},{"g":24,"i":7,"v":6.3},{"g":25,"i":7,"v":9},{"g":26,"i":7,"v":5},{"g":27,"i":7,"v":8.3},{"g":28,"i":7,"v":8.3},{"g":29,"i":7,"v":8.3},{"g":30,"i":7,"v":9},{"g":31,"i":7,"v":7.3},{"g":32,"i":7,"v":8.3},{"g":33,"i":7,"v":0.4},{"g":34,"i":7,"v":8.3},{"g":35,"i":7,"v":8.3},{"g":36,"i":7,"v":9},{"g":37,"i":7,"v":9},{"g":38,"i":7,"v":8.3},{"g":39,"i":7,"v":3},{"g":40,"i":7,"v":8.3},{"g":41,"i":7,"v":1},{"g":42,"i":7,"v":8.3},{"g":43,"i":7,"v":8.3},{"g":44,"i":7,"v":3},{"g":45,"i":7,"v":8.3},{"g":46,"i":7,"v":5},{"g":47,"i":7,"v":7.3},{"g":48,"i":7,"v":7.3},{"g":49,"i":7,"v":7.3},{"g":50,"i":7,"v":8.3},{"g":51,"i":7,"v":9},{"g":52,"i":7,"v":8.3},{"g":53,"i":7,"v":9},{"g":54,"i":7,"v":9},{"g":55,"i":7,"v":9},{"g":56,"i":7,"v":8.3},{"g":57,"i":7,"v":9},{"g":58,"i":7,"v":8.3},{"g":59,"i":7,"v":7.3},{"g":60,"i":7,"v":8.3},{"g":61,"i":7,"v":8.3},{"g":62,"i":7,"v":9.6},{"g":63,"i":7,"v":8.3},{"g":64,"i":7,"v":9.6},{"g":65,"i":7,"v":8.3},{"g":66,"i":7,"v":8.3},{"g":67,"i":7,"v":8.3},{"g":68,"i":7,"v":8.3},{"g":69,"i":7,"v":8.3},{"g":70,"i":7,"v":9},{"g":71,"i":7,"v":9},{"g":72,"i":7,"v":9},{"g":73,"i":7,"v":8.3},{"g":74,"i":7,"v":8.3},{"g":75,"i":7,"v":9},{"g":76,"i":7,"v":8.3},{"g":77,"i":7,"v":9},{"g":78,"i":7,"v":8.3},{"g":79,"i":7,"v":8.3},{"g":80,"i":7,"v":9},{"g":81,"i":7,"v":9},{"g":82,"i":7,"v":9},{"g":83,"i":7,"v":8.3},{"g":84,"i":7,"v":9.6},{"g":85,"i":7,"v":9},{"g":86,"i":7,"v":8.3},{"g":87,"i":7,"v":8.3},{"g":88,"i":7,"v":9},{"g":89,"i":7,"v":9},{"g":90,"i":7,"v":9},{"g":91,"i":7,"v":8.3},{"g":92,"i":7,"v":8.3},
{"g":1,"i":6,"v":2},{"g":2,"i":6,"v":2},{"g":3,"i":6,"v":1},{"g":4,"i":6,"v":1},{"g":5,"i":6,"v":0.4},{"g":6,"i":6,"v":6.3},{"g":7,"i":6,"v":6.3},{"g":8,"i":6,"v":8.3},{"g":9,"i":6,"v":6.3},{"g":10,"i":6,"v":1},{"g":11,"i":6,"v":7.3},{"g":12,"i":6,"v":6.3},{"g":13,"i":6,"v":8.3},{"g":14,"i":6,"v":8.3},{"g":15,"i":6,"v":7.3},{"g":16,"i":6,"v":7.3},{"g":17,"i":6,"v":3.8},{"g":18,"i":6,"v":8.3},{"g":19,"i":6,"v":8.3},{"g":20,"i":6,"v":8.3},{"g":21,"i":6,"v":8.3},{"g":22,"i":6,"v":9},{"g":23,"i":6,"v":9},{"g":24,"i":6,"v":9},{"g":25,"i":6,"v":8.3},{"g":26,"i":6,"v":9},{"g":27,"i":6,"v":9},{"g":28,"i":6,"v":0.4},{"g":29,"i":6,"v":8.3},{"g":30,"i":6,"v":8.3},{"g":31,"i":6,"v":3.8},{"g":32,"i":6,"v":8.3},{"g":33,"i":6,"v":9},{"g":34,"i":6,"v":9},{"g":35,"i":6,"v":8.3},{"g":36,"i":6,"v":8.3},{"g":37,"i":6,"v":8.3},{"g":38,"i":6,"v":9},{"g":39,"i":6,"v":9},{"g":40,"i":6,"v":6.3},{"g":41,"i":6,"v":8.3},{"g":42,"i":6,"v":9},{"g":43,"i":6,"v":9},{"g":44,"i":6,"v":9},{"g":45,"i":6,"v":8.3},{"g":46,"i":6,"v":8.3},{"g":47,"i":6,"v":8.3},{"g":48,"i":6,"v":8.3},{"g":49,"i":6,"v":8.3},{"g":50,"i":6,"v":9},{"g":51,"i":6,"v":8.3},{"g":52,"i":6,"v":8.3},{"g":53,"i":6,"v":8.3},{"g":54,"i":6,"v":7.3},{"g":55,"i":6,"v":7.3},{"g":56,"i":6,"v":9},{"g":57,"i":6,"v":9},{"g":58,"i":6,"v":8.3},{"g":59,"i":6,"v":9},{"g":60,"i":6,"v":9},{"g":61,"i":6,"v":9},{"g":62,"i":6,"v":8.3},{"g":63,"i":6,"v":8.3},{"g":64,"i":6,"v":9},{"g":65,"i":6,"v":9.6},{"g":66,"i":6,"v":8.3},{"g":67,"i":6,"v":9},{"g":68,"i":6,"v":8.3},{"g":69,"i":6,"v":9},{"g":70,"i":6,"v":9},{"g":71,"i":6,"v":8.3},{"g":72,"i":6,"v":9},{"g":73,"i":6,"v":9},{"g":74,"i":6,"v":8.3},{"g":75,"i":6,"v":9},{"g":76,"i":6,"v":7.3},{"g":77,"i":6,"v":7.3},{"g":78,"i":6,"v":9},{"g":79,"i":6,"v":7.3},{"g":80,"i":6,"v":8.3},{"g":81,"i":6,"v":9},{"g":82,"i":6,"v":8.3},{"g":83,"i":6,"v":9},{"g":84,"i":6,"v":8.3},{"g":85,"i":6,"v":9.6},{"g":86,"i":6,"v":9},{"g":87,"i":6,"v":9},{"g":88,"i":6,"v":9},{"g":89,"i":6,"v":9},{"g":90,"i":6,"v":8.3},{"g":91,"i":6,"v":9},{"g":92,"i":6,"v":8.3},
{"g":1,"i":5,"v":7.3},{"g":2,"i":5,"v":1},{"g":3,"i":5,"v":1},{"g":4,"i":5,"v":0.4},{"g":5,"i":5,"v":0.4},{"g":6,"i":5,"v":0.4},{"g":7,"i":5,"v":5},{"g":8,"i":5,"v":3.8},{"g":9,"i":5,"v":8.3},{"g":10,"i":5,"v":1},{"g":11,"i":5,"v":7.3},{"g":12,"i":5,"v":3},{"g":13,"i":5,"v":8.3},{"g":14,"i":5,"v":8.3},{"g":15,"i":5,"v":8.3},{"g":16,"i":5,"v":8.3},{"g":17,"i":5,"v":6.3},{"g":18,"i":5,"v":8.3},{"g":19,"i":5,"v":8.3},{"g":20,"i":5,"v":8.3},{"g":21,"i":5,"v":8.3},{"g":22,"i":5,"v":9},{"g":23,"i":5,"v":9},{"g":24,"i":5,"v":8.3},{"g":25,"i":5,"v":8.3},{"g":26,"i":5,"v":0.4},{"g":27,"i":5,"v":8.3},{"g":28,"i":5,"v":3},{"g":29,"i":5,"v":5},{"g":30,"i":5,"v":8.3},{"g":31,"i":5,"v":5},{"g":32,"i":5,"v":8.3},{"g":33,"i":5,"v":8.3},{"g":34,"i":5,"v":3},{"g":35,"i":5,"v":8.3},{"g":36,"i":5,"v":6.3},{"g":37,"i":5,"v":3.8},{"g":38,"i":5,"v":2},{"g":39,"i":5,"v":8.3},{"g":40,"i":5,"v":8.3},{"g":41,"i":5,"v":8.3},{"g":42,"i":5,"v":8.3},{"g":43,"i":5,"v":8.3},{"g":44,"i":5,"v":8.3},{"g":45,"i":5,"v":8.3},{"g":46,"i":5,"v":3.8},{"g":47,"i":5,"v":8.3},{"g":48,"i":5,"v":8.3},{"g":49,"i":5,"v":8.3},{"g":50,"i":5,"v":6.3},{"g":51,"i":5,"v":8.3},{"g":52,"i":5,"v":8.3},{"g":53,"i":5,"v":8.3},{"g":54,"i":5,"v":8.3},{"g":55,"i":5,"v":8.3},{"g":56,"i":5,"v":8.3},{"g":57,"i":5,"v":7.3},{"g":58,"i":5,"v":7.3},{"g":59,"i":5,"v":8.3},{"g":60,"i":5,"v":9},{"g":61,"i":5,"v":9},{"g":62,"i":5,"v":8.3},{"g":63,"i":5,"v":8.3},{"g":64,"i":5,"v":9},{"g":65,"i":5,"v":9},{"g":66,"i":5,"v":8.3},{"g":67,"i":5,"v":9},{"g":68,"i":5,"v":9},{"g":69,"i":5,"v":9},{"g":70,"i":5,"v":9},{"g":71,"i":5,"v":9},{"g":72,"i":5,"v":9},{"g":73,"i":5,"v":8.3},{"g":74,"i":5,"v":9},{"g":75,"i":5,"v":8.3},{"g":76,"i":5,"v":9},{"g":77,"i":5,"v":9},{"g":78,"i":5,"v":8.3},{"g":79,"i":5,"v":8.3},{"g":80,"i":5,"v":9},{"g":81,"i":5,"v":8.3},{"g":82,"i":5,"v":9},{"g":83,"i":5,"v":9},{"g":84,"i":5,"v":9.6},{"g":85,"i":5,"v":9.6},{"g":86,"i":5,"v":9},{"g":87,"i":5,"v":8.3},{"g":88,"i":5,"v":9},{"g":89,"i":5,"v":9},{"g":90,"i":5,"v":9},{"g":91,"i":5,"v":8.3},{"g":92,"i":5,"v":8.3},
{"g":1,"i":4,"v":0.4},{"g":2,"i":4,"v":0.4},{"g":3,"i":4,"v":5},{"g":4,"i":4,"v":1},{"g":5,"i":4,"v":1},{"g":6,"i":4,"v":2},{"g":7,"i":4,"v":3.8},{"g":8,"i":4,"v":2},{"g":9,"i":4,"v":3},{"g":10,"i":4,"v":5},{"g":11,"i":4,"v":6.3},{"g":12,"i":4,"v":1},{"g":13,"i":4,"v":1},{"g":14,"i":4,"v":7.3},{"g":15,"i":4,"v":8.3},{"g":16,"i":4,"v":8.3},{"g":17,"i":4,"v":8.3},{"g":18,"i":4,"v":6.3},{"g":19,"i":4,"v":6.3},{"g":20,"i":4,"v":8.3},{"g":21,"i":4,"v":9},{"g":22,"i":4,"v":9},{"g":23,"i":4,"v":9},{"g":24,"i":4,"v":9},{"g":25,"i":4,"v":8.3},{"g":26,"i":4,"v":8.3},{"g":27,"i":4,"v":8.3},{"g":28,"i":4,"v":3},{"g":29,"i":4,"v":1},{"g":30,"i":4,"v":8.3},{"g":31,"i":4,"v":0.4},{"g":32,"i":4,"v":8.3},{"g":33,"i":4,"v":3},{"g":34,"i":4,"v":9},{"g":35,"i":4,"v":8.3},{"g":36,"i":4,"v":8.3},{"g":37,"i":4,"v":8.3},{"g":38,"i":4,"v":1},{"g":39,"i":4,"v":1},{"g":40,"i":4,"v":3},{"g":41,"i":4,"v":8.3},{"g":42,"i":4,"v":9},{"g":43,"i":4,"v":8.3},{"g":44,"i":4,"v":7.3},{"g":45,"i":4,"v":9},{"g":46,"i":4,"v":9},{"g":47,"i":4,"v":8.3},{"g":48,"i":4,"v":9},{"g":49,"i":4,"v":8.3},{"g":50,"i":4,"v":9},{"g":51,"i":4,"v":9},{"g":52,"i":4,"v":9},{"g":53,"i":4,"v":9},{"g":54,"i":4,"v":9},{"g":55,"i":4,"v":9},{"g":56,"i":4,"v":8.3},{"g":57,"i":4,"v":8.3},{"g":58,"i":4,"v":9},{"g":59,"i":4,"v":9},{"g":60,"i":4,"v":9},{"g":61,"i":4,"v":9},{"g":62,"i":4,"v":8.3},{"g":63,"i":4,"v":8.3},{"g":64,"i":4,"v":9},{"g":65,"i":4,"v":9.6},{"g":66,"i":4,"v":8.3},{"g":67,"i":4,"v":9},{"g":68,"i":4,"v":9},{"g":69,"i":4,"v":8.3},{"g":70,"i":4,"v":9},{"g":71,"i":4,"v":9},{"g":72,"i":4,"v":8.3},{"g":73,"i":4,"v":9},{"g":74,"i":4,"v":9.6},{"g":75,"i":4,"v":8.3},{"g":76,"i":4,"v":9},{"g":77,"i":4,"v":8.3},{"g":78,"i":4,"v":8.3},{"g":79,"i":4,"v":9},{"g":80,"i":4,"v":9},{"g":81,"i":4,"v":9},{"g":82,"i":4,"v":9},{"g":83,"i":4,"v":9.6},{"g":84,"i":4,"v":9},{"g":85,"i":4,"v":9},{"g":86,"i":4,"v":8.3},{"g":87,"i":4,"v":9},{"g":88,"i":4,"v":9},{"g":89,"i":4,"v":9.6},{"g":90,"i":4,"v":9},{"g":91,"i":4,"v":9},{"g":92,"i":4,"v":9.6},
{"g":1,"i":3,"v":1},{"g":2,"i":3,"v":3},{"g":3,"i":3,"v":1},{"g":4,"i":3,"v":1},{"g":5,"i":3,"v":3},{"g":6,"i":3,"v":3.8},{"g":7,"i":3,"v":3.8},{"g":8,"i":3,"v":1},{"g":9,"i":3,"v":1},{"g":10,"i":3,"v":8.3},{"g":11,"i":3,"v":8.3},{"g":12,"i":3,"v":3},{"g":13,"i":3,"v":5},{"g":14,"i":3,"v":7.3},{"g":15,"i":3,"v":5},{"g":16,"i":3,"v":7.3},{"g":17,"i":3,"v":8.3},{"g":18,"i":3,"v":8.3},{"g":19,"i":3,"v":8.3},{"g":20,"i":3,"v":8.3},{"g":21,"i":3,"v":8.3},{"g":22,"i":3,"v":9},{"g":23,"i":3,"v":9},{"g":24,"i":3,"v":8.3},{"g":25,"i":3,"v":8.3},{"g":26,"i":3,"v":8.3},{"g":27,"i":3,"v":8.3},{"g":28,"i":3,"v":3},{"g":29,"i":3,"v":1},{"g":30,"i":3,"v":3.8},{"g":31,"i":3,"v":8.3},{"g":32,"i":3,"v":9},{"g":33,"i":3,"v":8.3},{"g":34,"i":3,"v":3},{"g":35,"i":3,"v":8.3},{"g":36,"i":3,"v":8.3},{"g":37,"i":3,"v":8.3},{"g":38,"i":3,"v":8.3},{"g":39,"i":3,"v":7.3},{"g":40,"i":3,"v":3},{"g":41,"i":3,"v":7.3},{"g":42,"i":3,"v":7.3},{"g":43,"i":3,"v":8.3},{"g":44,"i":3,"v":5},{"g":45,"i":3,"v":9},{"g":46,"i":3,"v":9},{"g":47,"i":3,"v":8.3},{"g":48,"i":3,"v":9},{"g":49,"i":3,"v":6.3},{"g":50,"i":3,"v":8.3},{"g":51,"i":3,"v":8.3},{"g":52,"i":3,"v":8.3},{"g":53,"i":3,"v":8.3},{"g":54,"i":3,"v":7.3},{"g":55,"i":3,"v":6.3},{"g":56,"i":3,"v":7.3},{"g":57,"i":3,"v":9},{"g":58,"i":3,"v":9},{"g":59,"i":3,"v":9},{"g":60,"i":3,"v":9},{"g":61,"i":3,"v":9},{"g":62,"i":3,"v":9},{"g":63,"i":3,"v":8.3},{"g":64,"i":3,"v":8.3},{"g":65,"i":3,"v":9},{"g":66,"i":3,"v":9},{"g":67,"i":3,"v":8.3},{"g":68,"i":3,"v":9},{"g":69,"i":3,"v":9},{"g":70,"i":3,"v":9},{"g":71,"i":3,"v":9.6},{"g":72,"i":3,"v":8.3},{"g":73,"i":3,"v":9},{"g":74,"i":3,"v":9},{"g":75,"i":3,"v":9.6},{"g":76,"i":3,"v":8.3},{"g":77,"i":3,"v":9},{"g":78,"i":3,"v":8.3},{"g":79,"i":3,"v":9.6},{"g":80,"i":3,"v":9},{"g":81,"i":3,"v":8.3},{"g":82,"i":3,"v":9.6},{"g":83,"i":3,"v":9},{"g":84,"i":3,"v":9},{"g":85,"i":3,"v":9},{"g":86,"i":3,"v":8.3},{"g":87,"i":3,"v":8.3},{"g":88,"i":3,"v":8.3},{"g":89,"i":3,"v":9},{"g":90,"i":3,"v":9},{"g":91,"i":3,"v":9},{"g":92,"i":3,"v":8.3},
{"g":1,"i":2,"v":0.4},{"g":2,"i":2,"v":1},{"g":3,"i":2,"v":1},{"g":4,"i":2,"v":6.3},{"g":5,"i":2,"v":1},{"g":6,"i":2,"v":7.3},{"g":7,"i":2,"v":3},{"g":8,"i":2,"v":7.3},{"g":9,"i":2,"v":8.3},{"g":10,"i":2,"v":8.3},{"g":11,"i":2,"v":8.3},{"g":12,"i":2,"v":8.3},{"g":13,"i":2,"v":8.3},{"g":14,"i":2,"v":8.3},{"g":15,"i":2,"v":6.3},{"g":16,"i":2,"v":6.3},{"g":17,"i":2,"v":8.3},{"g":18,"i":2,"v":9},{"g":19,"i":2,"v":8.3},{"g":20,"i":2,"v":8.3},{"g":21,"i":2,"v":9},{"g":22,"i":2,"v":9},{"g":23,"i":2,"v":8.3},{"g":24,"i":2,"v":8.3},{"g":25,"i":2,"v":8.3},{"g":26,"i":2,"v":8.3},{"g":27,"i":2,"v":8.3},{"g":28,"i":2,"v":8.3},{"g":29,"i":2,"v":9.6},{"g":30,"i":2,"v":9},{"g":31,"i":2,"v":9},{"g":32,"i":2,"v":9},{"g":33,"i":2,"v":9},{"g":34,"i":2,"v":5},{"g":35,"i":2,"v":6.3},{"g":36,"i":2,"v":8.3},{"g":37,"i":2,"v":8.3},{"g":38,"i":2,"v":2},{"g":39,"i":2,"v":8.3},{"g":40,"i":2,"v":8.3},{"g":41,"i":2,"v":1},{"g":42,"i":2,"v":3.8},{"g":43,"i":2,"v":7.3},{"g":44,"i":2,"v":9},{"g":45,"i":2,"v":8.3},{"g":46,"i":2,"v":8.3},{"g":47,"i":2,"v":8.3},{"g":48,"i":2,"v":8.3},{"g":49,"i":2,"v":8.3},{"g":50,"i":2,"v":8.3},{"g":51,"i":2,"v":8.3},{"g":52,"i":2,"v":8.3},{"g":53,"i":2,"v":3.8},{"g":54,"i":2,"v":3.8},{"g":55,"i":2,"v":8.3},{"g":56,"i":2,"v":8.3},{"g":57,"i":2,"v":8.3},{"g":58,"i":2,"v":8.3},{"g":59,"i":2,"v":8.3},{"g":60,"i":2,"v":7.3},{"g":61,"i":2,"v":9},{"g":62,"i":2,"v":9.6},{"g":63,"i":2,"v":9},{"g":64,"i":2,"v":8.3},{"g":65,"i":2,"v":8.3},{"g":66,"i":2,"v":8.3},{"g":67,"i":2,"v":9},{"g":68,"i":2,"v":8.3},{"g":69,"i":2,"v":8.3},{"g":70,"i":2,"v":8.3},{"g":71,"i":2,"v":8.3},{"g":72,"i":2,"v":9},{"g":73,"i":2,"v":8.3},{"g":74,"i":2,"v":8.3},{"g":75,"i":2,"v":8.3},{"g":76,"i":2,"v":8.3},{"g":77,"i":2,"v":8.3},{"g":78,"i":2,"v":9},{"g":79,"i":2,"v":8.3},{"g":80,"i":2,"v":8.3},{"g":81,"i":2,"v":9},{"g":82,"i":2,"v":9.6},{"g":83,"i":2,"v":9.6},{"g":84,"i":2,"v":9},{"g":85,"i":2,"v":8.3},{"g":86,"i":2,"v":9},{"g":87,"i":2,"v":9.6},{"g":88,"i":2,"v":9},{"g":89,"i":2,"v":8.3},{"g":90,"i":2,"v":9},{"g":91,"i":2,"v":9},{"g":92,"i":2,"v":9},
{"g":1,"i":1,"v":8.3},{"g":2,"i":1,"v":6.3},{"g":3,"i":1,"v":6.3},{"g":4,"i":1,"v":6.3},{"g":5,"i":1,"v":8.3},{"g":6,"i":1,"v":8.3},{"g":7,"i":1,"v":8.3},{"g":8,"i":1,"v":8.3},{"g":9,"i":1,"v":8.3},{"g":10,"i":1,"v":9},{"g":11,"i":1,"v":8.3},{"g":12,"i":1,"v":8.3},{"g":13,"i":1,"v":8.3},{"g":14,"i":1,"v":8.3},{"g":15,"i":1,"v":8.3},{"g":16,"i":1,"v":8.3},{"g":17,"i":1,"v":8.3},{"g":18,"i":1,"v":8.3},{"g":19,"i":1,"v":8.3},{"g":20,"i":1,"v":8.3},{"g":21,"i":1,"v":8.3},{"g":22,"i":1,"v":8.3},{"g":23,"i":1,"v":8.3},{"g":24,"i":1,"v":9},{"g":25,"i":1,"v":9},{"g":26,"i":1,"v":9},{"g":27,"i":1,"v":7.3},{"g":28,"i":1,"v":7.3},{"g":29,"i":1,"v":8.3},{"g":30,"i":1,"v":8.3},{"g":31,"i":1,"v":8.3},{"g":32,"i":1,"v":8.3},{"g":33,"i":1,"v":8.3},{"g":34,"i":1,"v":9.6},{"g":35,"i":1,"v":8.3},{"g":36,"i":1,"v":9},{"g":37,"i":1,"v":3},{"g":38,"i":1,"v":8.3},{"g":39,"i":1,"v":8.3},{"g":40,"i":1,"v":9},{"g":41,"i":1,"v":9},{"g":42,"i":1,"v":8.3},{"g":43,"i":1,"v":9},{"g":44,"i":1,"v":9},{"g":45,"i":1,"v":9.6},{"g":46,"i":1,"v":8.3},{"g":47,"i":1,"v":8.3},{"g":48,"i":1,"v":8.3},{"g":49,"i":1,"v":9},{"g":50,"i":1,"v":8.3},{"g":51,"i":1,"v":8.3},{"g":52,"i":1,"v":9},{"g":53,"i":1,"v":8.3},{"g":54,"i":1,"v":8.3},{"g":55,"i":1,"v":7.3},{"g":56,"i":1,"v":8.3},{"g":57,"i":1,"v":8.3},{"g":58,"i":1,"v":9},{"g":59,"i":1,"v":9},{"g":60,"i":1,"v":9},{"g":61,"i":1,"v":9},{"g":62,"i":1,"v":9.6},{"g":63,"i":1,"v":9},{"g":64,"i":1,"v":9},{"g":65,"i":1,"v":7.3},{"g":66,"i":1,"v":7.3},{"g":67,"i":1,"v":9},{"g":68,"i":1,"v":8.3},{"g":69,"i":1,"v":9},{"g":70,"i":1,"v":8.3},{"g":71,"i":1,"v":8.3},{"g":72,"i":1,"v":9},{"g":73,"i":1,"v":8.3},{"g":74,"i":1,"v":8.3},{"g":75,"i":1,"v":9},{"g":76,"i":1,"v":8.3},{"g":77,"i":1,"v":9},{"g":78,"i":1,"v":9},{"g":79,"i":1,"v":8.3},{"g":80,"i":1,"v":9},{"g":81,"i":1,"v":9},{"g":82,"i":1,"v":9.6},{"g":83,"i":1,"v":8.3},{"g":84,"i":1,"v":9},{"g":85,"i":1,"v":9},{"g":86,"i":1,"v":9},{"g":87,"i":1,"v":8.3},{"g":88,"i":1,"v":9},{"g":89,"i":1,"v":9},{"g":90,"i":1,"v":8.3},{"g":91,"i":1,"v":9},{"g":92,"i":1,"v":9}
],
"fit":[{"g":0,"best":0.31,"mean":0.86},{"g":1,"best":0.255,"mean":0.78},{"g":2,"best":0.29,"mean":0.745},{"g":3,"best":0.195,"mean":0.705},{"g":4,"best":0.115,"mean":0.625},{"g":5,"best":0.11,"mean":0.48},{"g":6,"best":0.13,"mean":0.545},{"g":7,"best":0.075,"mean":0.42},{"g":8,"best":0.075,"mean":0.345},{"g":9,"best":0.04,"mean":0.37},{"g":10,"best":0.075,"mean":0.345},{"g":11,"best":0.065,"mean":0.41},{"g":12,"best":0.065,"mean":0.315},{"g":13,"best":0.075,"mean":0.265},{"g":14,"best":0.09,"mean":0.305},{"g":15,"best":0.04,"mean":0.255},{"g":16,"best":0.05,"mean":0.265},{"g":17,"best":0.05,"mean":0.28},{"g":18,"best":0.05,"mean":0.215},{"g":19,"best":0.05,"mean":0.205},{"g":20,"best":0.05,"mean":0.12},{"g":21,"best":0.04,"mean":0.215},{"g":22,"best":0.07,"mean":0.27},{"g":23,"best":0.05,"mean":0.255},{"g":24,"best":0.035,"mean":0.25},{"g":25,"best":0.07,"mean":0.36},{"g":26,"best":0.05,"mean":0.42},{"g":27,"best":0.05,"mean":0.51},{"g":28,"best":0.05,"mean":0.365},{"g":29,"best":0.035,"mean":0.285},{"g":30,"best":0.035,"mean":0.275},{"g":31,"best":0.05,"mean":0.415},{"g":32,"best":0.05,"mean":0.29},{"g":33,"best":0.05,"mean":0.19},{"g":34,"best":0.05,"mean":0.255},{"g":35,"best":0.05,"mean":0.37},{"g":36,"best":0.05,"mean":0.415},{"g":37,"best":0.015,"mean":0.36},{"g":38,"best":0.05,"mean":0.4},{"g":39,"best":0.05,"mean":0.41},{"g":40,"best":0.05,"mean":0.46},{"g":41,"best":0.05,"mean":0.355},{"g":42,"best":0.015,"mean":0.255},{"g":43,"best":0.015,"mean":0.23},{"g":44,"best":0.015,"mean":0.255},{"g":45,"best":0.015,"mean":0.28},{"g":46,"best":0.05,"mean":0.18},{"g":47,"best":0.035,"mean":0.135},{"g":48,"best":0.05,"mean":0.17},{"g":49,"best":0.035,"mean":0.15},{"g":50,"best":0.035,"mean":0.165},{"g":51,"best":0.035,"mean":0.145},{"g":52,"best":0.05,"mean":0.19},{"g":53,"best":0.05,"mean":0.165},{"g":54,"best":0.05,"mean":0.135},{"g":55,"best":0.05,"mean":0.145},{"g":56,"best":0.015,"mean":0.11},{"g":57,"best":0.015,"mean":0.125},{"g":58,"best":0.05,"mean":0.1},{"g":59,"best":0.035,"mean":0.115},{"g":60,"best":0.035,"mean":0.105},{"g":61,"best":0.035,"mean":0.09},{"g":62,"best":0.015,"mean":0.08},{"g":63,"best":0.015,"mean":0.075},{"g":64,"best":0.035,"mean":0.11},{"g":65,"best":0.05,"mean":0.1},{"g":66,"best":0.015,"mean":0.085},{"g":67,"best":0.05,"mean":0.105},{"g":68,"best":0.05,"mean":0.085},{"g":69,"best":0.035,"mean":0.095},{"g":70,"best":0.015,"mean":0.065},{"g":71,"best":0.035,"mean":0.09},{"g":72,"best":0.015,"mean":0.095},{"g":73,"best":0.035,"mean":0.08},{"g":74,"best":0.015,"mean":0.105},{"g":75,"best":0.035,"mean":0.09},{"g":76,"best":0.035,"mean":0.09},{"g":77,"best":0.015,"mean":0.105},{"g":78,"best":0.035,"mean":0.09},{"g":79,"best":0.015,"mean":0.085},{"g":80,"best":0.015,"mean":0.08},{"g":81,"best":0.015,"mean":0.08},{"g":82,"best":0.015,"mean":0.08},{"g":83,"best":0.05,"mean":0.095},{"g":84,"best":0.015,"mean":0.075},{"g":85,"best":0.035,"mean":0.08},{"g":86,"best":0.015,"mean":0.075},{"g":87,"best":0.035,"mean":0.08},{"g":88,"best":0.035,"mean":0.085},{"g":89,"best":0.015,"mean":0.075},{"g":90,"best":0.035,"mean":0.065},{"g":91,"best":0.015,"mean":0.08},{"g":92,"best":0.015,"mean":0.08}],
"grid":[{"g":20},{"g":40},{"g":60},{"g":80}],
"gridh":[{"f":0.2},{"f":0.4},{"f":0.6},{"f":0.8}],
"bars":[{"n":1,"tf":9.6,"ti":0.2,"fi":0.99,"ff":0.075},{"n":2,"tf":9.4,"ti":0.3,"fi":0.99,"ff":0.105},{"n":3,"tf":9,"ti":0.25,"fi":0.99,"ff":0.165},{"n":4,"tf":8.8,"ti":0,"fi":1,"ff":0.19},{"n":5,"tf":9.4,"ti":7,"fi":0.42,"ff":0.105},{"n":6,"tf":8.4,"ti":1.65,"fi":0.905,"ff":0.245},{"n":7,"tf":8.8,"ti":0,"fi":1,"ff":0.19},{"n":8,"tf":9.4,"ti":0.85,"fi":0.955,"ff":0.105},{"n":9,"tf":9.2,"ti":5.25,"fi":0.605,"ff":0.135},{"n":10,"tf":9.6,"ti":5.85,"fi":0.55,"ff":0.075},{"n":11,"tf":9.6,"ti":1.25,"fi":0.93,"ff":0.075},{"n":12,"tf":9.6,"ti":0.9,"fi":0.955,"ff":0.075},{"n":13,"tf":9.6,"ti":2.45,"fi":0.845,"ff":0.075},{"n":14,"tf":9.2,"ti":1.45,"fi":0.92,"ff":0.165},{"n":15,"tf":10,"ti":0.65,"fi":0.965,"ff":0.015},{"n":16,"tf":9.6,"ti":0.05,"fi":1,"ff":0.105},{"n":17,"tf":9.6,"ti":0,"fi":1.005,"ff":0.105},{"n":18,"tf":9.4,"ti":0.85,"fi":0.955,"ff":0.165},{"n":19,"tf":9.6,"ti":0.45,"fi":0.975,"ff":0.075},{"n":20,"tf":9.8,"ti":0.65,"fi":0.965,"ff":0.045}],
"box1":[{"h":1,"q1":1.15,"med":1.5,"q3":1.83,"lo":0.33,"hi":2.62},{"h":2,"q1":0.5,"med":1.65,"q3":2.1,"lo":0.05,"hi":2.95},{"h":3,"q1":0.73,"med":1.96,"q3":2.33,"lo":0,"hi":2.98},{"h":4,"q1":0.68,"med":1.55,"q3":2.3,"lo":0.05,"hi":2.98},{"h":5,"q1":0.92,"med":1.28,"q3":2.06,"lo":0.45,"hi":2.95},{"h":6,"q1":0.98,"med":1.83,"q3":2.38,"lo":0.1,"hi":2.95},{"h":7,"q1":0.68,"med":1.6,"q3":2.25,"lo":0.18,"hi":2.7},{"h":8,"q1":1.15,"med":1.6,"q3":2.33,"lo":0.1,"hi":2.78}],
"box2":[{"h":1,"q1":2.33,"med":2.35,"q3":2.38,"lo":2.32,"hi":2.4},{"h":2,"q1":2.79,"med":2.8,"q3":2.81,"lo":2.79,"hi":2.81},{"h":3,"q1":1.95,"med":1.96,"q3":1.98,"lo":1.94,"hi":1.99},{"h":4,"q1":2.05,"med":2.08,"q3":2.1,"lo":2.04,"hi":2.13},{"h":5,"q1":1,"med":1.005,"q3":1.01,"lo":1,"hi":1.01},{"h":6,"q1":0.62,"med":0.66,"q3":0.71,"lo":0.62,"hi":0.75},{"h":7,"q1":0.5,"med":0.53,"q3":0.57,"lo":0.49,"hi":0.58},{"h":8,"q1":0.64,"med":0.65,"q3":0.66,"lo":0.64,"hi":0.66}],
"blue":[{"x":29,"y":54,"x2":99,"y2":98}],
"orange":[{"x":161,"y":53,"x2":232,"y2":98},{"x":291,"y":52,"x2":363,"y2":97},{"x":388,"y":53,"x2":460,"y2":97},{"x":603,"y":53,"x2":674,"y2":97}],
"gray":[{"x":496,"y":52,"x2":558,"y2":80}],
"green":[{"x":693,"y":55,"x2":765,"y2":98}],
"yellow":[{"x":290,"y":173,"x2":365,"y2":216},{"x":385,"y":173,"x2":468,"y2":217},{"x":490,"y":173,"x2":562,"y2":210},{"x":712,"y":238,"x2":783,"y2":275}],
"whiteb":[{"x":496,"y":233,"x2":558,"y2":252},{"x":496,"y":261,"x2":559,"y2":280},{"x":496,"y":293,"x2":558,"y2":312}],
"stack":[{"x":704,"y":163,"x2":749,"y2":176},{"x":704,"y":176,"x2":749,"y2":190},{"x":704,"y":190,"x2":749,"y2":203},{"x":704,"y":203,"x2":749,"y2":217},{"x":616,"y":191,"x2":653,"y2":207}],
"lines":[{"x":61,"y":54,"x2":61,"y2":2,"k":"laser"},{"x":61,"y":2,"x2":728,"y2":2,"k":"laser"},{"x":728,"y":2,"x2":728,"y2":50,"k":"laser"},{"x":103,"y":75,"x2":150,"y2":75,"k":"laser"},{"x":726,"y":100,"x2":726,"y2":155,"k":"laser"},{"x":237,"y":78,"x2":284,"y2":78,"k":"photon"},{"x":365,"y":72,"x2":384,"y2":72,"k":"photon"},{"x":464,"y":87,"x2":599,"y2":87,"k":"photon"},{"x":675,"y":76,"x2":689,"y2":76,"k":"photon"},{"x":464,"y":62,"x2":493,"y2":62,"k":"control"},{"x":464,"y":72,"x2":493,"y2":72,"k":"control"},{"x":325,"y":173,"x2":325,"y2":101,"k":"control"},{"x":423,"y":171,"x2":423,"y2":101,"k":"control"},{"x":525,"y":172,"x2":525,"y2":139,"k":"control"},{"x":525,"y":139,"x2":427,"y2":139,"k":"control"},{"x":385,"y":195,"x2":373,"y2":195,"k":"control"},{"x":422,"y":242,"x2":422,"y2":224,"k":"control"},{"x":525,"y":230,"x2":525,"y2":215,"k":"control"},{"x":526,"y":292,"x2":526,"y2":285,"k":"control"},{"x":525,"y":260,"x2":525,"y2":256,"k":"control"},{"x":704,"y":199,"x2":658,"y2":199,"k":"control"},{"x":634,"y":207,"x2":634,"y2":222,"k":"control"},{"x":688,"y":251,"x2":707,"y2":251,"k":"control"},{"x":636,"y":277,"x2":636,"y2":338,"k":"return"},{"x":636,"y":338,"x2":527,"y2":338,"k":"return"},{"x":527,"y":338,"x2":527,"y2":326,"k":"return"},{"x":125,"y":32.5,"x2":147,"y2":32.5,"k":"laser"},{"x":48.5,"y":162,"x2":48.5,"y2":219,"k":"brace"},{"x":48.5,"y":162,"x2":51,"y2":162,"k":"brace"},{"x":48.5,"y":219,"x2":51,"y2":219,"k":"brace"},{"x":45,"y":190,"x2":48.5,"y2":190,"k":"brace"},{"x":48.5,"y":255,"x2":48.5,"y2":312,"k":"brace"},{"x":48.5,"y":255,"x2":51,"y2":255,"k":"brace"},{"x":48.5,"y":312,"x2":51,"y2":312,"k":"brace"},{"x":45,"y":285,"x2":48.5,"y2":285,"k":"brace"},{"x":143,"y":215.7,"x2":176,"y2":215.7,"k":"control"},{"x":143,"y":310.7,"x2":209,"y2":310.7,"k":"control"},{"x":460,"y":124.5,"x2":471,"y2":124.5,"k":"control"},{"x":110,"y":172.5,"x2":243,"y2":172.5,"k":"base"},{"x":111,"y":193.3,"x2":244,"y2":193.3,"k":"base"},{"x":111,"y":211.3,"x2":244,"y2":211.3,"k":"base"},{"x":109,"y":267.3,"x2":243,"y2":267.3,"k":"base"},{"x":110,"y":289,"x2":244,"y2":289,"k":"base"},{"x":111,"y":306.5,"x2":244,"y2":306.5,"k":"base"}],
"heads":[{"x":728,"y":51,"d":"d","k":"laser"},{"x":151,"y":75,"d":"r","k":"laser"},{"x":726,"y":156,"d":"d","k":"laser"},{"x":127,"y":32.5,"d":"l","k":"laser"},{"x":145,"y":32.5,"d":"r","k":"laser"},{"x":285,"y":78,"d":"r","k":"photon"},{"x":385,"y":72,"d":"r","k":"photon"},{"x":600,"y":87,"d":"r","k":"photon"},{"x":690,"y":76,"d":"r","k":"photon"},{"x":494,"y":62,"d":"r","k":"control"},{"x":494,"y":72,"d":"r","k":"control"},{"x":325,"y":100,"d":"u","k":"control"},{"x":423,"y":100,"d":"u","k":"control"},{"x":426,"y":139,"d":"l","k":"control"},{"x":372,"y":195,"d":"l","k":"control"},{"x":422,"y":223,"d":"u","k":"control"},{"x":525,"y":214,"d":"u","k":"control"},{"x":526,"y":284,"d":"u","k":"control"},{"x":525,"y":255,"d":"u","k":"control"},{"x":657,"y":199,"d":"l","k":"control"},{"x":634,"y":223,"d":"d","k":"control"},{"x":708,"y":251,"d":"r","k":"control"},{"x":527,"y":325,"d":"u","k":"control"},{"x":145,"y":215.7,"d":"l","k":"control"},{"x":174,"y":215.7,"d":"r","k":"control"},{"x":145,"y":310.7,"d":"l","k":"control"},{"x":207,"y":310.7,"d":"r","k":"control"}],
"pulse":[{"x":95,"y":51.5},{"x":99,"y":49.5},{"x":101,"y":45},{"x":103,"y":37},{"x":104,"y":34.5},{"x":105,"y":37},{"x":107,"y":45},{"x":109,"y":49.5},{"x":113,"y":51.5},{"x":116,"y":51},{"x":120,"y":49},{"x":122,"y":45},{"x":124,"y":37},{"x":125,"y":34.5},{"x":126,"y":37},{"x":128,"y":45},{"x":130,"y":49.5},{"x":134,"y":51.5},{"x":137,"y":51},{"x":141,"y":49},{"x":143,"y":45},{"x":145,"y":37},{"x":146.5,"y":34.5},{"x":148,"y":37},{"x":150,"y":45},{"x":152,"y":49.5},{"x":158,"y":51.5}],
"dots":[{"x":248,"y":68},{"x":260,"y":68},{"x":274,"y":68}],
"stemsb":[{"x":121.3,"y":160.7,"y2":172.3},{"x":132.3,"y":160.7,"y2":172.3},{"x":143.3,"y":160.7,"y2":172.3},{"x":154.3,"y":160.7,"y2":172.3},{"x":165,"y":160.7,"y2":172.3},{"x":176,"y":160.7,"y2":172.3},{"x":187,"y":160.7,"y2":172.3},{"x":198,"y":160.7,"y2":172.3},{"x":209,"y":160.7,"y2":172.3},{"x":220,"y":160.7,"y2":172.3},{"x":231,"y":160.7,"y2":172.3},{"x":143.3,"y":200,"y2":211},{"x":154.3,"y":200,"y2":211},{"x":165.3,"y":200,"y2":211},{"x":187,"y":200,"y2":211},{"x":121,"y":256,"y2":267},{"x":132,"y":256,"y2":267},{"x":143,"y":256,"y2":267},{"x":154,"y":256,"y2":267},{"x":165,"y":256,"y2":267},{"x":176,"y":256,"y2":267},{"x":187,"y":256,"y2":267},{"x":198,"y":256,"y2":267},{"x":209,"y":256,"y2":267},{"x":220,"y":256,"y2":267},{"x":231,"y":256,"y2":267},{"x":143.3,"y":295,"y2":306},{"x":154,"y":295,"y2":306},{"x":165,"y":295,"y2":306},{"x":176,"y":295,"y2":306},{"x":187,"y":295,"y2":306},{"x":198,"y":295,"y2":306},{"x":209,"y":295,"y2":306}],
"stemso":[{"x":176.3,"y":182,"y2":193},{"x":198.3,"y":182,"y2":193},{"x":230.7,"y":182,"y2":193},{"x":176.3,"y":200,"y2":211},{"x":198,"y":200,"y2":211},{"x":234.7,"y":277.3,"y2":288.7}],
"gatebars":[{"x":143,"y":172.5,"x2":209,"y2":176},{"x":142.5,"y":267.5,"x2":208.5,"y2":271}],
"serif":[{"x":137,"y":21,"t":"2 ns","k":"box"},{"x":62,"y":75,"t":"Pulse laser","k":"box"},{"x":197,"y":68.3,"t":"Photon\nactivator","k":"box"},{"x":326,"y":68,"t":"Qutrit\ngenerator","k":"box"},{"x":424,"y":68,"t":"Encoder in\ntraining","k":"box"},{"x":527,"y":60.3,"t":"Qubit\nmodes","k":"box"},{"x":638,"y":75,"t":"SNSPD","k":"box"},{"x":729,"y":69.3,"t":"Counting\nlogic","k":"box"},{"x":326,"y":181,"t":"Random\nsettings in\na subspace","k":"box"},{"x":427,"y":189,"t":"Population\ninitialization","k":"box"},{"x":527,"y":191,"t":"Offspring","k":"box"},{"x":527,"y":242,"t":"Mutation","k":"box"},{"x":527,"y":270,"t":"Crossover","k":"box"},{"x":527,"y":302,"t":"Selection","k":"box"},{"x":634,"y":245,"t":"Stop\ncriteria?","k":"box"},{"x":748,"y":250,"t":"Stop and\nreturn best","k":"box"},{"x":527,"y":28,"t":"Fitness evaluation module","k":"big"},{"x":679,"y":188,"t":"Averaging","k":"box"},{"x":696,"y":241,"t":"Yes","k":"box"},{"x":649,"y":289,"t":"No","k":"box"},{"x":421,"y":289,"t":"Training starts","k":"box"},{"x":731,"y":181.7,"t":"…… ","k":"small"},{"x":150,"y":140,"t":"Timing diagram for the counting logic","k":"box"},{"x":126,"y":175.5,"t":"Gate start","k":"tiny"},{"x":226.5,"y":175.5,"t":"Gate end","k":"tiny"},{"x":141,"y":277.5,"t":"Gate start","k":"tiny2"},{"x":217,"y":277.5,"t":"Gate end","k":"tiny2"},{"x":152,"y":234,"t":"During training","k":"mid"}],
"serifm":[{"x":750,"y":27,"t":"Laser\nchannel"},{"x":683,"y":105.3,"t":"Photon\nchannel"},{"x":532,"y":94.7,"t":"Trash mode\nin monitoring"},{"x":363,"y":115,"t":"50 random\nqutrits for each\nindividual"}],
"serifl":[{"x":433,"y":117,"t":"20 individuals"},{"x":433,"y":129,"t":"each   Pₖ = (l₁, l₂, ... l₈)"},{"x":55,"y":169,"t":"Laser ch"},{"x":55,"y":190,"t":"Photon ch"},{"x":55,"y":209,"t":"Gated stream"},{"x":55,"y":264.5,"t":"Laser ch"},{"x":55,"y":285.5,"t":"Photon ch"},{"x":55,"y":305,"t":"Gated stream"},{"x":86,"y":328.7,"t":"Training objective: Δt → Δt"}],
"italic":[{"x":722,"y":170,"t":"Δt"},{"x":722,"y":196.7,"t":"Δt"},{"x":722,"y":210.3,"t":"Δt"},{"x":621,"y":199,"t":"Δt"},{"x":155,"y":221.7,"t":"Δt"},{"x":157,"y":317,"t":"Δt"}],
"subs":[{"x":732,"y":172,"t":"50"},{"x":732,"y":199,"t":"2"},{"x":732,"y":213,"t":"1"},{"x":633,"y":201.7,"t":"P1−20"},{"x":167,"y":320,"t":"dark noise"},{"x":203,"y":331.7,"t":"dark noise"}],
"letters":[{"x":6,"y":13,"t":"A"},{"x":6,"y":131,"t":"B"},{"x":6,"y":378,"t":"C"},{"x":542,"y":378,"t":"D"},{"x":6,"y":603,"t":"E"},{"x":269,"y":602,"t":"F"},{"x":541,"y":603,"t":"G"}],
"frames":[{"x":34.5,"y":380,"x2":479,"y2":554},{"x":571,"y":383,"x2":782,"y2":550},{"x":36.5,"y":611,"x2":241.5,"y2":774},{"x":299,"y":609,"x2":505,"y2":772},{"x":571,"y":603,"x2":782,"y2":674},{"x":568,"y":710,"x2":782,"y2":781}],
"titles":[{"x":257,"y":372,"t":"Evolution of the time spent until the first click (ps)","k":"c"},{"x":677,"y":375,"t":"Best: 0.0157409 Mean: 0.0815608","k":"d"},{"x":148,"y":603,"t":"Time until the first click of individuals","k":"e"},{"x":401,"y":602,"t":"Fitness value of individuals","k":"e"},{"x":675,"y":597,"t":"Statistics of initial free parameters","k":"g"},{"x":672,"y":703,"t":"Statistics of final free parameters","k":"g"}],
"mult":[{"x":502,"y":370,"t":"×10⁹"},{"x":46,"y":605,"t":"×10⁹"}],
"legendboxes":[{"x":705.7,"y":387,"x2":780,"y2":410.3},{"x":157.7,"y":618,"x2":237.3,"y2":638.7},{"x":420.7,"y":613.3,"x2":501,"y2":634}],
"legendswatch":[{"x":160,"y":620,"x2":183,"y2":627,"s":"Final population"},{"x":160,"y":629.3,"x2":183,"y2":636,"s":"Initial population"},{"x":423,"y":615,"x2":446,"y2":622.3,"s":"Initial population"},{"x":423,"y":625,"x2":446,"y2":631.7,"s":"Final population"}],
"legendtext":[{"x":185,"y":624,"t":"Final population"},{"x":185,"y":633,"t":"Initial population"},{"x":447.7,"y":619,"t":"Initial population"},{"x":447.7,"y":628.7,"t":"Final population"}],
"legendtextd":[{"x":732.7,"y":394,"t":"Best fitness"},{"x":732.7,"y":404,"t":"Mean fitness"}],
"legendlines":[{"x":708,"y":394,"x2":730,"y2":394,"s":"Best fitness"},{"x":708,"y":404,"x2":730,"y2":404,"s":"Mean fitness"}],
"legendsyms":[{"x":719,"y":394,"s":"Best fitness"},{"x":719,"y":404,"s":"Mean fitness"}]
},
"layer":[
{"encoding":{"x":{"field":"x","type":"quantitative","scale":{"domain":[0,785],"range":[0,785]},"axis":null},"y":{"field":"y","type":"quantitative","scale":{"domain":[0,801],"range":[0,801]},"axis":null}},
"layer":[
{"data":{"values":[{"x":279,"y":18,"x2":774,"y2":145}]},"mark":{"type":"rect","fill":"#FFD45F","cornerRadius":18,"stroke":"#e6e6e6","strokeWidth":1},"encoding":{"x2":{"field":"x2"},"y2":{"field":"y2"}}},
{"data":{"values":[{"x":37,"y":127,"x2":259,"y2":339}]},"mark":{"type":"rect","fill":"white","stroke":"#cfcfcf","strokeWidth":1},"encoding":{"x2":{"field":"x2"},"y2":{"field":"y2"}}},
{"data":{"name":"blue"},"mark":{"type":"rect","fill":"#a9a9a9","cornerRadius":6,"xOffset":1,"yOffset":1.5},"encoding":{"x2":{"field":"x2"},"y2":{"field":"y2"}}},
{"data":{"name":"orange"},"mark":{"type":"rect","fill":"#a9a9a9","cornerRadius":6,"xOffset":1,"yOffset":1.5},"encoding":{"x2":{"field":"x2"},"y2":{"field":"y2"}}},
{"data":{"name":"yellow"},"mark":{"type":"rect","fill":"#a9a9a9","cornerRadius":6,"xOffset":1,"yOffset":1.5},"encoding":{"x2":{"field":"x2"},"y2":{"field":"y2"}}},
{"data":{"name":"green"},"mark":{"type":"rect","fill":"#a9a9a9","cornerRadius":6,"xOffset":1,"yOffset":1.5},"encoding":{"x2":{"field":"x2"},"y2":{"field":"y2"}}},
{"data":{"name":"blue"},"mark":{"type":"rect","cornerRadius":6,"stroke":"#c9d4ea","strokeWidth":1,"color":{"gradient":"linear","x1":0,"y1":0,"x2":0,"y2":1,"stops":[{"offset":0,"color":"#5f86cf"},{"offset":1,"color":"#2a58b8"}]}},"encoding":{"x2":{"field":"x2"},"y2":{"field":"y2"}}},
{"data":{"name":"orange"},"mark":{"type":"rect","fill":"#ED7D31","cornerRadius":6,"stroke":"#f7d9c2","strokeWidth":1},"encoding":{"x2":{"field":"x2"},"y2":{"field":"y2"}}},
{"data":{"name":"gray"},"mark":{"type":"rect","cornerRadius":5,"stroke":"#e5e5e5","strokeWidth":1,"color":{"gradient":"linear","x1":0,"y1":0,"x2":0,"y2":1,"stops":[{"offset":0,"color":"#cfcfcf"},{"offset":1,"color":"#8f8f8f"}]}},"encoding":{"x2":{"field":"x2"},"y2":{"field":"y2"}}},
{"data":{"name":"green"},"mark":{"type":"rect","cornerRadius":6,"stroke":"#dcebd0","strokeWidth":1,"color":{"gradient":"linear","x1":0,"y1":0,"x2":0,"y2":1,"stops":[{"offset":0,"color":"#7fbb4f"},{"offset":1,"color":"#4f9a2d"}]}},"encoding":{"x2":{"field":"x2"},"y2":{"field":"y2"}}},
{"data":{"name":"yellow"},"mark":{"type":"rect","cornerRadius":6,"stroke":"#f5e6b0","strokeWidth":1,"color":{"gradient":"linear","x1":0,"y1":0,"x2":0,"y2":1,"stops":[{"offset":0,"color":"#ffd24a"},{"offset":1,"color":"#f2ae00"}]}},"encoding":{"x2":{"field":"x2"},"y2":{"field":"y2"}}},
{"data":{"values":[{"x":487,"y":226,"x2":565,"y2":321}]},"mark":{"type":"rect","fill":"#FFC000","cornerRadius":10,"stroke":"#e3e3e3","strokeWidth":1},"encoding":{"x2":{"field":"x2"},"y2":{"field":"y2"}}},
{"data":{"name":"whiteb"},"mark":{"type":"rect","fill":"white","stroke":"#222","cornerRadius":2,"strokeWidth":1},"encoding":{"x2":{"field":"x2"},"y2":{"field":"y2"}}},
{"data":{"name":"stack"},"mark":{"type":"rect","fill":"white","stroke":"#444","strokeWidth":0.9},"encoding":{"x2":{"field":"x2"},"y2":{"field":"y2"}}},
{"data":{"values":[{"x":634,"y":252}]},"mark":{"type":"point","filled":true,"opacity":1,"size":11236,"shape":"M-1,0L0,-0.47L1,0L0,0.47Z","color":{"gradient":"linear","x1":0,"y1":0,"x2":0,"y2":1,"stops":[{"offset":0,"color":"#ffd24a"},{"offset":1,"color":"#f2ae00"}]}}},
{"data":{"values":[{"x":423,"y":263}]},"mark":{"type":"point","filled":true,"opacity":1,"size":1000,"color":"#000","shape":"M-0.05,-0.85A0.13,0.13,0,1,1,0.21,-0.85A0.13,0.13,0,1,1,-0.05,-0.85ZM-0.1,-0.6L0.2,-0.62L0.45,-0.2L0.75,-0.05L0.68,0.07L0.3,-0.08L0.2,-0.3L0.15,0.1L0.5,0.4L0.55,1L0.32,1L0.28,0.5L0,0.3L-0.15,0.65L-0.6,1L-0.75,0.85L-0.35,0.5L-0.2,-0.1L-0.2,-0.35L-0.35,-0.1L-0.55,-0.05L-0.6,-0.15L-0.45,-0.25Z"}},
{"data":{"name":"gatebars"},"mark":{"type":"rect","fill":"#00A651"},"encoding":{"x2":{"field":"x2"},"y2":{"field":"y2"}}},
{"data":{"name":"lines"},"mark":{"type":"rule"},"encoding":{"x2":{"field":"x2"},"y2":{"field":"y2"},"color":{"field":"k","type":"nominal","legend":null,"scale":{"domain":["laser","photon","control","return","brace","base"],"range":["#4472C4","#F4955A","#111111","#777777","#888888","#9ADBB9"]}},"strokeWidth":{"field":"k","type":"nominal","legend":null,"scale":{"type":"ordinal","domain":["laser","photon","control","return","brace","base"],"range":[1,1,1,1.4,0.8,1]}}}},
{"data":{"name":"heads"},"mark":{"type":"point","filled":true,"opacity":1,"size":20},"encoding":{"shape":{"field":"d","type":"nominal","legend":null,"scale":{"domain":["r","l","u","d"],"range":["triangle-right","triangle-left","triangle-up","triangle-down"]}},"color":{"field":"k","type":"nominal","legend":null}}},
{"data":{"name":"pulse"},"mark":{"type":"area","interpolate":"monotone","opacity":0.9,"color":{"gradient":"linear","x1":0,"y1":0,"x2":0,"y2":1,"stops":[{"offset":0,"color":"#ffffff"},{"offset":1,"color":"#b9cdea"}]}},"encoding":{"y2":{"datum":52}}},
{"data":{"name":"pulse"},"mark":{"type":"line","interpolate":"monotone","color":"#4472C4","strokeWidth":0.8}},
{"data":{"name":"dots"},"mark":{"type":"circle","color":"#ff0000","size":90,"opacity":0.25}},
{"data":{"name":"dots"},"mark":{"type":"circle","color":"#f4002a","size":38,"opacity":1}},
{"data":{"name":"stemsb"},"mark":{"type":"rule","color":"#0070C0","strokeWidth":1},"encoding":{"y2":{"field":"y2"}}},
{"data":{"name":"stemso"},"mark":{"type":"rule","color":"#ED7D31","strokeWidth":1},"encoding":{"y2":{"field":"y2"}}},
{"data":{"name":"stemsb"},"mark":{"type":"circle","color":"#0070C0","size":30,"opacity":1}},
{"data":{"name":"stemso"},"mark":{"type":"circle","color":"#ED7D31","size":30,"opacity":1}},
{"data":{"name":"serif"},"mark":{"type":"text","font":"Liberation Serif","color":"#111","baseline":"middle","align":"center","lineHeight":12},"encoding":{"text":{"field":"t"},"size":{"field":"k","type":"nominal","legend":null,"scale":{"type":"ordinal","domain":["tiny2","tiny","small","mid","box","big"],"range":[6.8,7.6,9,10.5,12,13]}}}},
{"data":{"name":"serifm"},"mark":{"type":"text","font":"Liberation Serif","color":"#111","baseline":"middle","align":"center","lineHeight":11,"fontSize":10.5},"encoding":{"text":{"field":"t"}}},
{"data":{"name":"serifl"},"mark":{"type":"text","font":"Liberation Serif","color":"#111","baseline":"middle","align":"left","fontSize":10.5},"encoding":{"text":{"field":"t"}}},
{"data":{"name":"italic"},"mark":{"type":"text","font":"Liberation Serif","fontStyle":"italic","color":"#111","baseline":"middle","align":"left","fontSize":10.5},"encoding":{"text":{"field":"t"}}},
{"data":{"name":"subs"},"mark":{"type":"text","font":"Liberation Serif","color":"#111","baseline":"middle","align":"left","fontSize":7},"encoding":{"text":{"field":"t"}}},
{"data":{"values":[{"x":473,"y":275,"t":"Genetic operators"}]},"mark":{"type":"text","font":"Liberation Serif","color":"#111","baseline":"middle","align":"center","fontSize":11.7,"angle":270},"encoding":{"text":{"field":"t"}}}
]},
{"data":{"name":"heat"},
"mark":{"type":"rect","width":5.1,"height":9.4,"xOffset":2.4,"yOffset":-4.6},
"encoding":{"x":{"field":"g","type":"quantitative","scale":{"domain":[1,93],"range":[34.5,479],"nice":false,"zero":false},"axis":{"orient":"bottom","title":"Generations","values":[10,20,30,40,50,60,70,80,90],"offset":-247,"labelFontSize":8.5,"titleFontSize":10,"titlePadding":0,"labelPadding":5}},
"y":{"field":"i","type":"quantitative","scale":{"domain":[1,20],"range":[554,380],"nice":false,"zero":false},"axis":{"orient":"left","title":"Individuals","values":[4,8,12,16,20],"offset":-34.5,"labelFontSize":8.5,"titleFontSize":10,"titlePadding":6}},
"fill":{"field":"v","type":"quantitative","scale":{"domain":[0,1.1,3.5,5,6.5,8.3,10],"range":["#7f0000","#ff0000","#ffff00","#80ff80","#00ffff","#0000ff","#00007f"]},"legend":{"orient":"none","legendX":484,"legendY":380,"gradientLength":174,"gradientThickness":11,"values":[1,2,3,4,5,6,7,8,9,10],"title":null,"labelFontSize":8,"labelColor":"#404040","labelFont":"Liberation Sans","direction":"vertical","labelOffset":2}}}},
{"encoding":{"x":{"field":"g","type":"quantitative","scale":{"domain":[0,93],"range":[571,782],"nice":false,"zero":false},"axis":{"orient":"bottom","title":"Generations","values":[0,20,40,60,80],"offset":-251,"labelFontSize":9.5,"titleFontSize":10.6,"titlePadding":2,"format":"d"}},"y":{"scale":{"domain":[0,0.9],"range":[550,383],"nice":false,"zero":false},"type":"quantitative","axis":{"orient":"left","title":"Fitness value","values":[0,0.2,0.4,0.6,0.8],"offset":-571,"labelFontSize":9.5,"titleFontSize":10,"titlePadding":6,"format":"~g"},"field":"best"}},
"data":{"name":"fit"},
"layer":[
{"data":{"name":"grid"},"mark":{"type":"rule","color":"#e6e6e6","strokeWidth":0.7},"encoding":{"y":{"datum":0,"type":"quantitative"},"y2":{"datum":0.9}}},
{"data":{"name":"gridh"},"mark":{"type":"rule","color":"#e6e6e6","strokeWidth":0.7},"encoding":{"y":{"field":"f","type":"quantitative"},"x":{"datum":0,"type":"quantitative"},"x2":{"datum":93}}},
{"mark":{"type":"line","color":"#E2561E","strokeWidth":1,"point":{"shape":"triangle-down","filled":true,"size":20,"color":"#E2561E","opacity":1}}},
{"mark":{"type":"line","color":"#1515F0","strokeWidth":1,"point":{"shape":"circle","filled":true,"size":20,"color":"#1515F0","opacity":1}},"encoding":{"y":{"field":"mean","type":"quantitative"}}}
]},
{"data":{"name":"bars"},"encoding":{"x":{"field":"n","type":"quantitative","scale":{"domain":[0,21.2],"range":[36.5,241.5],"nice":false,"zero":false},"axis":{"orient":"bottom","title":"Individuals","values":[0,4,8,12,16,20],"offset":-27,"labelFontSize":9.5,"titleFontSize":10.4,"titlePadding":2}}},
"layer":[
{"mark":{"type":"bar","size":8,"fill":"#0000F0","stroke":"#aaaaaa","strokeWidth":0.7},"encoding":{"y":{"field":"tf","type":"quantitative","scale":{"domain":[0,10],"range":[774,611],"nice":false},"axis":{"orient":"left","title":"Time until the first click (ps)","values":[0,2,4,6,8,10],"offset":-36.5,"labelFontSize":9.5,"titleFontSize":10.4,"titlePadding":2}}}},
{"mark":{"type":"bar","size":8,"fill":"#F47F4B","stroke":"#aaaaaa","strokeWidth":0.7},"encoding":{"y":{"field":"ti","type":"quantitative"}}}
]},
{"data":{"name":"bars"},"encoding":{"x":{"field":"n","type":"quantitative","scale":{"domain":[0,21.3],"range":[299,505],"nice":false,"zero":false},"axis":{"orient":"bottom","title":"Individuals","values":[0,4,8,12,16,20],"offset":-29,"labelFontSize":9.5,"titleFontSize":10.4,"titlePadding":2}}},
"layer":[
{"mark":{"type":"bar","size":8,"fill":"#F47F4B","stroke":"#bbbbbb","strokeWidth":0.7},"encoding":{"y":{"field":"fi","type":"quantitative","scale":{"domain":[0,1.2],"range":[772,609],"nice":false},"axis":{"orient":"left","title":"Fitness value","values":[0,0.2,0.4,0.6,0.8,1,1.2],"offset":-299,"labelFontSize":9.5,"titleFontSize":10,"titlePadding":6,"format":"~g"}}}},
{"mark":{"type":"bar","size":8,"fill":"#0000F0"},"encoding":{"y":{"field":"ff","type":"quantitative"}}}
]},
{"data":{"name":"box1"},"encoding":{"x":{"field":"h","type":"quantitative","scale":{"domain":[0.53,8.55],"range":[571,782],"nice":false,"zero":false},"axis":{"orient":"bottom","title":"Index of heaters","values":[1,2,3,4,5,6,7,8],"offset":-127,"labelFontSize":8.5,"titleFontSize":9,"titlePadding":2,"labelPadding":4}}},
"layer":[
{"mark":{"type":"rule","color":"#555","strokeDash":[3,2],"strokeWidth":0.8},"encoding":{"y":{"field":"lo","type":"quantitative","scale":{"domain":[-0.1,3.12],"range":[674,603],"nice":false,"zero":false},"axis":{"orient":"left","title":"Current (mA)","values":[0,1,2,3],"offset":-571,"labelFontSize":8.5,"titleFontSize":9,"titlePadding":2}},"y2":{"field":"q1"}}},
{"mark":{"type":"rule","color":"#555","strokeDash":[3,2],"strokeWidth":0.8},"encoding":{"y":{"field":"q3","type":"quantitative"},"y2":{"field":"hi"}}},
{"mark":{"type":"tick","orient":"horizontal","size":7,"color":"#555","thickness":0.8},"encoding":{"y":{"field":"lo","type":"quantitative"}}},
{"mark":{"type":"tick","orient":"horizontal","size":7,"color":"#555","thickness":0.8},"encoding":{"y":{"field":"hi","type":"quantitative"}}},
{"mark":{"type":"bar","size":13.5,"fill":"white","stroke":"#8f8fff","strokeWidth":1},"encoding":{"y":{"field":"q1","type":"quantitative"},"y2":{"field":"q3"}}},
{"mark":{"type":"tick","orient":"horizontal","size":13.5,"color":"#FF7070","thickness":0.9},"encoding":{"y":{"field":"med","type":"quantitative"}}},
{"data":{"values":[{"h":1,"out":2.83}]},"mark":{"type":"point","shape":"cross","filled":true,"size":12,"color":"#ff2020","opacity":1},"encoding":{"y":{"field":"out","type":"quantitative"}}}
]},
{"data":{"name":"box2"},"encoding":{"x":{"field":"h","type":"quantitative","scale":{"domain":[0.49,8.6],"range":[568,782],"nice":false,"zero":false},"axis":{"orient":"bottom","title":"Index of heaters","values":[1,2,3,4,5,6,7,8],"offset":-20,"labelFontSize":8.5,"titleFontSize":9,"titlePadding":2,"labelPadding":4}}},
"layer":[
{"mark":{"type":"rule","color":"#555","strokeWidth":0.8},"encoding":{"y":{"field":"lo","type":"quantitative","scale":{"domain":[0.39,2.945],"range":[781,710],"nice":false,"zero":false},"axis":{"orient":"left","title":"Current (mA)","values":[0.5,1,1.5,2,2.5],"offset":-568,"labelFontSize":8.5,"titleFontSize":9,"titlePadding":4,"format":"~g"}},"y2":{"field":"hi"}}},
{"mark":{"type":"bar","size":14,"fill":"#dcdcff","stroke":"#8080ff","strokeWidth":0.9},"encoding":{"y":{"field":"q1","type":"quantitative"},"y2":{"field":"q3"}}},
{"mark":{"type":"tick","orient":"horizontal","size":14,"color":"#E03050","thickness":0.8},"encoding":{"y":{"field":"med","type":"quantitative"}}},
{"data":{"values":[{"h":1,"out":2.42},{"h":2,"out":2.8},{"h":5,"out":1.02},{"h":8,"out":0.63},{"h":8,"out":0.66}]},"mark":{"type":"point","shape":"cross","filled":true,"size":12,"color":"#ff1010","opacity":1},"encoding":{"y":{"field":"out","type":"quantitative"}}}
]},
{"encoding":{"x":{"field":"x","type":"quantitative","scale":{"domain":[0,785],"range":[0,785]},"axis":null},"y":{"field":"y","type":"quantitative","scale":{"domain":[0,801],"range":[0,801]},"axis":null}},
"layer":[
{"data":{"name":"frames"},"mark":{"type":"rect","fill":null,"fillOpacity":0,"stroke":"#6e6e6e","strokeWidth":0.8},"encoding":{"x2":{"field":"x2"},"y2":{"field":"y2"}}},
{"data":{"name":"legendboxes"},"mark":{"type":"rect","fill":"white","stroke":"#9a9a9a","strokeWidth":0.8},"encoding":{"x2":{"field":"x2"},"y2":{"field":"y2"}}},
{"data":{"name":"legendswatch"},"mark":{"type":"rect","stroke":"#999","strokeWidth":0.4},"encoding":{"x2":{"field":"x2"},"y2":{"field":"y2"},"fill":{"field":"s","type":"nominal","legend":null,"scale":{"domain":["Final population","Initial population"],"range":["#0000F0","#F47F4B"]}}}},
{"data":{"name":"legendlines"},"mark":{"type":"rule","strokeWidth":1.2},"encoding":{"x2":{"field":"x2"},"y2":{"field":"y2"},"color":{"field":"s","type":"nominal","legend":null,"scale":{"domain":["Best fitness","Mean fitness"],"range":["#E2561E","#1515F0"]}}}},
{"data":{"name":"legendsyms"},"mark":{"type":"point","filled":true,"opacity":1,"size":26},"encoding":{"shape":{"field":"s","type":"nominal","legend":null,"scale":{"domain":["Best fitness","Mean fitness"],"range":["triangle-down","circle"]}},"color":{"field":"s","type":"nominal","legend":null}}},
{"data":{"name":"legendtext"},"mark":{"type":"text","font":"Liberation Sans","color":"#333","align":"left","baseline":"middle","fontSize":6.8},"encoding":{"text":{"field":"t"}}},
{"data":{"name":"legendtextd"},"mark":{"type":"text","font":"Liberation Sans","color":"#333","align":"left","baseline":"middle","fontSize":8},"encoding":{"text":{"field":"t"}}},
{"data":{"name":"mult"},"mark":{"type":"text","font":"Liberation Sans","color":"#555","align":"center","baseline":"middle","fontSize":9},"encoding":{"text":{"field":"t"}}},
{"data":{"name":"titles"},"mark":{"type":"text","font":"Liberation Sans","fontWeight":"bold","color":"#111","align":"center","baseline":"middle"},"encoding":{"text":{"field":"t"},"size":{"field":"k","type":"nominal","legend":null,"scale":{"type":"ordinal","domain":["c","d","e","g"],"range":[11.1,8.55,9.8,8.9]}}}},
{"data":{"name":"letters"},"mark":{"type":"text","font":"Liberation Sans","fontWeight":"bold","color":"#000","align":"center","baseline":"middle","fontSize":12},"encoding":{"text":{"field":"t"}}}
]}
]}
